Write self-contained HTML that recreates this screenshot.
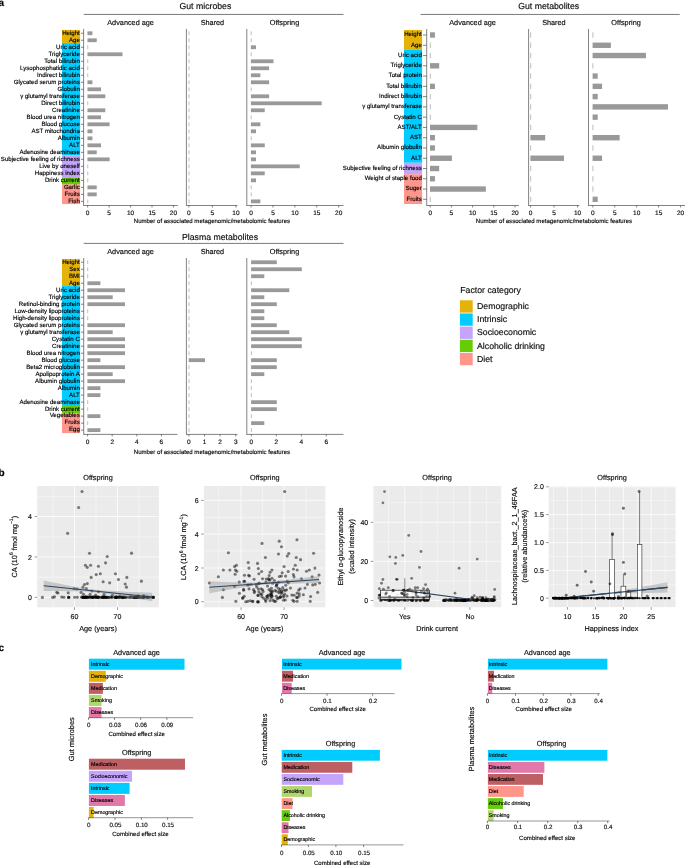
<!DOCTYPE html>
<html><head><meta charset="utf-8"><title>Figure</title>
<style>
html,body{margin:0;padding:0;background:#fff;}
body{width:685px;height:865px;overflow:hidden;}
svg{display:block;font-family:"Liberation Sans",sans-serif;will-change:transform;}
text{stroke:#000;stroke-width:0.15px;text-rendering:geometricPrecision;}
</style></head><body>
<svg width="685" height="865" viewBox="0 0 685 865">
<rect x="0" y="0" width="685" height="865" fill="#ffffff"/>
<text x="205.4" y="9" font-size="8.73" fill="#111" text-anchor="middle">Gut microbes</text>
<line x1="83.7" y1="14.45" x2="343.5" y2="14.45" stroke="#4d4d4d" stroke-width="0.75"/>
<rect x="62" y="29.9" width="18.1" height="13.26" fill="#E5B20A"/>
<rect x="62" y="43.11" width="18.1" height="112.13" fill="#00CCFF"/>
<rect x="62" y="155.19" width="18.1" height="22.37" fill="#C4A5FB"/>
<rect x="62" y="177.5" width="18.1" height="7.05" fill="#68CB08"/>
<rect x="62" y="184.51" width="18.1" height="19.54" fill="#FF968C"/>
<text x="79.8" y="34.6" font-size="6.1" fill="#000" text-anchor="end">Height</text>
<line x1="81" y1="33.25" x2="83.6" y2="33.25" stroke="#333" stroke-width="0.6"/>
<text x="79.8" y="41.61" font-size="6.1" fill="#000" text-anchor="end">Age</text>
<line x1="81" y1="40.26" x2="83.6" y2="40.26" stroke="#333" stroke-width="0.6"/>
<text x="79.8" y="48.61" font-size="6.1" fill="#000" text-anchor="end">Uric acid</text>
<line x1="81" y1="47.26" x2="83.6" y2="47.26" stroke="#333" stroke-width="0.6"/>
<text x="79.8" y="55.62" font-size="6.1" fill="#000" text-anchor="end">Triglyceride</text>
<line x1="81" y1="54.27" x2="83.6" y2="54.27" stroke="#333" stroke-width="0.6"/>
<text x="79.8" y="62.62" font-size="6.1" fill="#000" text-anchor="end">Total bilirubin</text>
<line x1="81" y1="61.27" x2="83.6" y2="61.27" stroke="#333" stroke-width="0.6"/>
<text x="79.8" y="69.62" font-size="6.1" fill="#000" text-anchor="end">Lysophosphatidic acid</text>
<line x1="81" y1="68.28" x2="83.6" y2="68.28" stroke="#333" stroke-width="0.6"/>
<text x="79.8" y="76.63" font-size="6.1" fill="#000" text-anchor="end">Indirect bilirubin</text>
<line x1="81" y1="75.28" x2="83.6" y2="75.28" stroke="#333" stroke-width="0.6"/>
<text x="79.8" y="83.63" font-size="6.1" fill="#000" text-anchor="end">Glycated serum proteins</text>
<line x1="81" y1="82.28" x2="83.6" y2="82.28" stroke="#333" stroke-width="0.6"/>
<text x="79.8" y="90.64" font-size="6.1" fill="#000" text-anchor="end">Globulin</text>
<line x1="81" y1="89.29" x2="83.6" y2="89.29" stroke="#333" stroke-width="0.6"/>
<text x="79.8" y="97.64" font-size="6.1" fill="#000" text-anchor="end">&#947; glutamyl transferase</text>
<line x1="81" y1="96.3" x2="83.6" y2="96.3" stroke="#333" stroke-width="0.6"/>
<text x="79.8" y="104.65" font-size="6.1" fill="#000" text-anchor="end">Direct bilirubin</text>
<line x1="81" y1="103.3" x2="83.6" y2="103.3" stroke="#333" stroke-width="0.6"/>
<text x="79.8" y="111.65" font-size="6.1" fill="#000" text-anchor="end">Creatinine</text>
<line x1="81" y1="110.3" x2="83.6" y2="110.3" stroke="#333" stroke-width="0.6"/>
<text x="79.8" y="118.66" font-size="6.1" fill="#000" text-anchor="end">Blood urea nitrogen</text>
<line x1="81" y1="117.31" x2="83.6" y2="117.31" stroke="#333" stroke-width="0.6"/>
<text x="79.8" y="125.66" font-size="6.1" fill="#000" text-anchor="end">Blood glucose</text>
<line x1="81" y1="124.31" x2="83.6" y2="124.31" stroke="#333" stroke-width="0.6"/>
<text x="79.8" y="132.67" font-size="6.1" fill="#000" text-anchor="end">AST mitochondria</text>
<line x1="81" y1="131.32" x2="83.6" y2="131.32" stroke="#333" stroke-width="0.6"/>
<text x="79.8" y="139.67" font-size="6.1" fill="#000" text-anchor="end">Albumin</text>
<line x1="81" y1="138.32" x2="83.6" y2="138.32" stroke="#333" stroke-width="0.6"/>
<text x="79.8" y="146.68" font-size="6.1" fill="#000" text-anchor="end">ALT</text>
<line x1="81" y1="145.33" x2="83.6" y2="145.33" stroke="#333" stroke-width="0.6"/>
<text x="79.8" y="153.68" font-size="6.1" fill="#000" text-anchor="end">Adenosine deaminase</text>
<line x1="81" y1="152.33" x2="83.6" y2="152.33" stroke="#333" stroke-width="0.6"/>
<text x="79.8" y="160.69" font-size="6.1" fill="#000" text-anchor="end">Subjective feeling of richness</text>
<line x1="81" y1="159.34" x2="83.6" y2="159.34" stroke="#333" stroke-width="0.6"/>
<text x="79.8" y="167.69" font-size="6.1" fill="#000" text-anchor="end">Live by oneself</text>
<line x1="81" y1="166.34" x2="83.6" y2="166.34" stroke="#333" stroke-width="0.6"/>
<text x="79.8" y="174.7" font-size="6.1" fill="#000" text-anchor="end">Happiness index</text>
<line x1="81" y1="173.35" x2="83.6" y2="173.35" stroke="#333" stroke-width="0.6"/>
<text x="79.8" y="181.7" font-size="6.1" fill="#000" text-anchor="end">Drink current</text>
<line x1="81" y1="180.35" x2="83.6" y2="180.35" stroke="#333" stroke-width="0.6"/>
<text x="79.8" y="188.71" font-size="6.1" fill="#000" text-anchor="end">Garlic</text>
<line x1="81" y1="187.36" x2="83.6" y2="187.36" stroke="#333" stroke-width="0.6"/>
<text x="79.8" y="195.72" font-size="6.1" fill="#000" text-anchor="end">Fruits</text>
<line x1="81" y1="194.37" x2="83.6" y2="194.37" stroke="#333" stroke-width="0.6"/>
<text x="79.8" y="202.72" font-size="6.1" fill="#000" text-anchor="end">Fish</text>
<line x1="81" y1="201.37" x2="83.6" y2="201.37" stroke="#333" stroke-width="0.6"/>
<text x="130.6" y="25.4" font-size="7.3" fill="#111" text-anchor="middle">Advanced age</text>
<line x1="83.6" y1="28.9" x2="83.6" y2="205.5" stroke="#4d4d4d" stroke-width="0.7"/>
<line x1="83.25" y1="205.5" x2="177.8" y2="205.5" stroke="#4d4d4d" stroke-width="0.7"/>
<rect x="87.45" y="31.35" width="4.99" height="3.8" fill="#999999"/>
<rect x="87.45" y="38.36" width="9.28" height="3.8" fill="#999999"/>
<line x1="87.75" y1="45.36" x2="87.75" y2="49.16" stroke="#a8a8a8" stroke-width="0.75"/>
<rect x="87.45" y="52.37" width="35.02" height="3.8" fill="#999999"/>
<line x1="87.75" y1="59.37" x2="87.75" y2="63.17" stroke="#a8a8a8" stroke-width="0.75"/>
<line x1="87.75" y1="66.38" x2="87.75" y2="70.18" stroke="#a8a8a8" stroke-width="0.75"/>
<line x1="87.75" y1="73.38" x2="87.75" y2="77.18" stroke="#a8a8a8" stroke-width="0.75"/>
<rect x="87.45" y="80.38" width="4.99" height="3.8" fill="#999999"/>
<rect x="87.45" y="87.39" width="13.57" height="3.8" fill="#999999"/>
<rect x="87.45" y="94.39" width="17.86" height="3.8" fill="#999999"/>
<line x1="87.75" y1="101.4" x2="87.75" y2="105.2" stroke="#a8a8a8" stroke-width="0.75"/>
<rect x="87.45" y="108.4" width="17.86" height="3.8" fill="#999999"/>
<rect x="87.45" y="115.41" width="13.57" height="3.8" fill="#999999"/>
<rect x="87.45" y="122.41" width="22.15" height="3.8" fill="#999999"/>
<rect x="87.45" y="129.42" width="4.99" height="3.8" fill="#999999"/>
<rect x="87.45" y="136.42" width="4.99" height="3.8" fill="#999999"/>
<rect x="87.45" y="143.43" width="13.57" height="3.8" fill="#999999"/>
<rect x="87.45" y="150.43" width="9.28" height="3.8" fill="#999999"/>
<rect x="87.45" y="157.44" width="22.15" height="3.8" fill="#999999"/>
<line x1="87.75" y1="164.44" x2="87.75" y2="168.25" stroke="#a8a8a8" stroke-width="0.75"/>
<line x1="87.75" y1="171.45" x2="87.75" y2="175.25" stroke="#a8a8a8" stroke-width="0.75"/>
<line x1="87.75" y1="178.45" x2="87.75" y2="182.25" stroke="#a8a8a8" stroke-width="0.75"/>
<rect x="87.45" y="185.46" width="9.28" height="3.8" fill="#999999"/>
<rect x="87.45" y="192.47" width="9.28" height="3.8" fill="#999999"/>
<line x1="87.75" y1="199.47" x2="87.75" y2="203.27" stroke="#a8a8a8" stroke-width="0.75"/>
<line x1="87.65" y1="205.5" x2="87.65" y2="207.5" stroke="#333" stroke-width="0.6"/>
<text x="87.65" y="214.7" font-size="6.5" fill="#111" text-anchor="middle">0</text>
<line x1="109.1" y1="205.5" x2="109.1" y2="207.5" stroke="#333" stroke-width="0.6"/>
<text x="109.1" y="214.7" font-size="6.5" fill="#111" text-anchor="middle">5</text>
<line x1="130.55" y1="205.5" x2="130.55" y2="207.5" stroke="#333" stroke-width="0.6"/>
<text x="130.55" y="214.7" font-size="6.5" fill="#111" text-anchor="middle">10</text>
<line x1="152" y1="205.5" x2="152" y2="207.5" stroke="#333" stroke-width="0.6"/>
<text x="152" y="214.7" font-size="6.5" fill="#111" text-anchor="middle">15</text>
<line x1="173.45" y1="205.5" x2="173.45" y2="207.5" stroke="#333" stroke-width="0.6"/>
<text x="173.45" y="214.7" font-size="6.5" fill="#111" text-anchor="middle">20</text>
<text x="212.4" y="25.4" font-size="7.3" fill="#111" text-anchor="middle">Shared</text>
<line x1="186.4" y1="28.9" x2="186.4" y2="205.5" stroke="#4d4d4d" stroke-width="0.7"/>
<line x1="186.05" y1="205.5" x2="237.5" y2="205.5" stroke="#4d4d4d" stroke-width="0.7"/>
<line x1="189" y1="31.35" x2="189" y2="35.15" stroke="#a8a8a8" stroke-width="0.75"/>
<line x1="189" y1="38.36" x2="189" y2="42.16" stroke="#a8a8a8" stroke-width="0.75"/>
<line x1="189" y1="45.36" x2="189" y2="49.16" stroke="#a8a8a8" stroke-width="0.75"/>
<line x1="189" y1="52.37" x2="189" y2="56.16" stroke="#a8a8a8" stroke-width="0.75"/>
<line x1="189" y1="59.37" x2="189" y2="63.17" stroke="#a8a8a8" stroke-width="0.75"/>
<line x1="189" y1="66.38" x2="189" y2="70.18" stroke="#a8a8a8" stroke-width="0.75"/>
<line x1="189" y1="73.38" x2="189" y2="77.18" stroke="#a8a8a8" stroke-width="0.75"/>
<line x1="189" y1="80.38" x2="189" y2="84.19" stroke="#a8a8a8" stroke-width="0.75"/>
<line x1="189" y1="87.39" x2="189" y2="91.19" stroke="#a8a8a8" stroke-width="0.75"/>
<line x1="189" y1="94.39" x2="189" y2="98.2" stroke="#a8a8a8" stroke-width="0.75"/>
<line x1="189" y1="101.4" x2="189" y2="105.2" stroke="#a8a8a8" stroke-width="0.75"/>
<line x1="189" y1="108.4" x2="189" y2="112.2" stroke="#a8a8a8" stroke-width="0.75"/>
<line x1="189" y1="115.41" x2="189" y2="119.21" stroke="#a8a8a8" stroke-width="0.75"/>
<line x1="189" y1="122.41" x2="189" y2="126.22" stroke="#a8a8a8" stroke-width="0.75"/>
<line x1="189" y1="129.42" x2="189" y2="133.22" stroke="#a8a8a8" stroke-width="0.75"/>
<line x1="189" y1="136.42" x2="189" y2="140.22" stroke="#a8a8a8" stroke-width="0.75"/>
<line x1="189" y1="143.43" x2="189" y2="147.23" stroke="#a8a8a8" stroke-width="0.75"/>
<line x1="189" y1="150.43" x2="189" y2="154.23" stroke="#a8a8a8" stroke-width="0.75"/>
<line x1="189" y1="157.44" x2="189" y2="161.24" stroke="#a8a8a8" stroke-width="0.75"/>
<line x1="189" y1="164.44" x2="189" y2="168.25" stroke="#a8a8a8" stroke-width="0.75"/>
<line x1="189" y1="171.45" x2="189" y2="175.25" stroke="#a8a8a8" stroke-width="0.75"/>
<line x1="189" y1="178.45" x2="189" y2="182.25" stroke="#a8a8a8" stroke-width="0.75"/>
<line x1="189" y1="185.46" x2="189" y2="189.26" stroke="#a8a8a8" stroke-width="0.75"/>
<line x1="189" y1="192.47" x2="189" y2="196.27" stroke="#a8a8a8" stroke-width="0.75"/>
<line x1="189" y1="199.47" x2="189" y2="203.27" stroke="#a8a8a8" stroke-width="0.75"/>
<line x1="188.9" y1="205.5" x2="188.9" y2="207.5" stroke="#333" stroke-width="0.6"/>
<text x="188.9" y="214.7" font-size="6.5" fill="#111" text-anchor="middle">0</text>
<line x1="212.4" y1="205.5" x2="212.4" y2="207.5" stroke="#333" stroke-width="0.6"/>
<text x="212.4" y="214.7" font-size="6.5" fill="#111" text-anchor="middle">5</text>
<line x1="235.9" y1="205.5" x2="235.9" y2="207.5" stroke="#333" stroke-width="0.6"/>
<text x="235.9" y="214.7" font-size="6.5" fill="#111" text-anchor="middle">10</text>
<text x="284.5" y="25.4" font-size="7.3" fill="#111" text-anchor="middle">Offspring</text>
<line x1="246.8" y1="28.9" x2="246.8" y2="205.5" stroke="#4d4d4d" stroke-width="0.7"/>
<line x1="246.45" y1="205.5" x2="343.5" y2="205.5" stroke="#4d4d4d" stroke-width="0.7"/>
<line x1="251.2" y1="31.35" x2="251.2" y2="35.15" stroke="#a8a8a8" stroke-width="0.75"/>
<line x1="251.2" y1="38.36" x2="251.2" y2="42.16" stroke="#a8a8a8" stroke-width="0.75"/>
<rect x="250.9" y="45.36" width="5.08" height="3.8" fill="#999999"/>
<line x1="251.2" y1="52.37" x2="251.2" y2="56.16" stroke="#a8a8a8" stroke-width="0.75"/>
<rect x="250.9" y="59.37" width="22.6" height="3.8" fill="#999999"/>
<rect x="250.9" y="66.38" width="18.22" height="3.8" fill="#999999"/>
<rect x="250.9" y="73.38" width="9.46" height="3.8" fill="#999999"/>
<rect x="250.9" y="80.38" width="18.22" height="3.8" fill="#999999"/>
<line x1="251.2" y1="87.39" x2="251.2" y2="91.19" stroke="#a8a8a8" stroke-width="0.75"/>
<rect x="250.9" y="94.39" width="18.22" height="3.8" fill="#999999"/>
<rect x="250.9" y="101.4" width="70.78" height="3.8" fill="#999999"/>
<rect x="250.9" y="108.4" width="13.84" height="3.8" fill="#999999"/>
<line x1="251.2" y1="115.41" x2="251.2" y2="119.21" stroke="#a8a8a8" stroke-width="0.75"/>
<rect x="250.9" y="122.41" width="9.46" height="3.8" fill="#999999"/>
<rect x="250.9" y="129.42" width="5.08" height="3.8" fill="#999999"/>
<line x1="251.2" y1="136.42" x2="251.2" y2="140.22" stroke="#a8a8a8" stroke-width="0.75"/>
<rect x="250.9" y="143.43" width="13.84" height="3.8" fill="#999999"/>
<rect x="250.9" y="150.43" width="5.08" height="3.8" fill="#999999"/>
<rect x="250.9" y="157.44" width="5.08" height="3.8" fill="#999999"/>
<rect x="250.9" y="164.44" width="48.88" height="3.8" fill="#999999"/>
<rect x="250.9" y="171.45" width="13.84" height="3.8" fill="#999999"/>
<rect x="250.9" y="178.45" width="5.08" height="3.8" fill="#999999"/>
<line x1="251.2" y1="185.46" x2="251.2" y2="189.26" stroke="#a8a8a8" stroke-width="0.75"/>
<line x1="251.2" y1="192.47" x2="251.2" y2="196.27" stroke="#a8a8a8" stroke-width="0.75"/>
<rect x="250.9" y="199.47" width="9.46" height="3.8" fill="#999999"/>
<line x1="251.1" y1="205.5" x2="251.1" y2="207.5" stroke="#333" stroke-width="0.6"/>
<text x="251.1" y="214.7" font-size="6.5" fill="#111" text-anchor="middle">0</text>
<line x1="273" y1="205.5" x2="273" y2="207.5" stroke="#333" stroke-width="0.6"/>
<text x="273" y="214.7" font-size="6.5" fill="#111" text-anchor="middle">5</text>
<line x1="294.9" y1="205.5" x2="294.9" y2="207.5" stroke="#333" stroke-width="0.6"/>
<text x="294.9" y="214.7" font-size="6.5" fill="#111" text-anchor="middle">10</text>
<line x1="316.8" y1="205.5" x2="316.8" y2="207.5" stroke="#333" stroke-width="0.6"/>
<text x="316.8" y="214.7" font-size="6.5" fill="#111" text-anchor="middle">15</text>
<line x1="338.7" y1="205.5" x2="338.7" y2="207.5" stroke="#333" stroke-width="0.6"/>
<text x="338.7" y="214.7" font-size="6.5" fill="#111" text-anchor="middle">20</text>
<text x="212" y="222.9" font-size="6.06" fill="#111" text-anchor="middle">Number of associated metagenomic/metabolomic features</text>
<text x="548.7" y="9" font-size="8.73" fill="#111" text-anchor="middle">Gut metabolites</text>
<line x1="420.6" y1="14.45" x2="679.7" y2="14.45" stroke="#4d4d4d" stroke-width="0.75"/>
<rect x="404" y="30" width="18.1" height="19.81" fill="#E5B20A"/>
<rect x="404" y="49.76" width="18.1" height="113.02" fill="#00CCFF"/>
<rect x="404" y="162.72" width="18.1" height="11.62" fill="#C4A5FB"/>
<rect x="404" y="174.29" width="18.1" height="29.76" fill="#FF968C"/>
<text x="421.8" y="36.35" font-size="6.1" fill="#000" text-anchor="end">Height</text>
<line x1="423" y1="35" x2="426.7" y2="35" stroke="#333" stroke-width="0.6"/>
<text x="421.8" y="46.62" font-size="6.1" fill="#000" text-anchor="end">Age</text>
<line x1="423" y1="45.27" x2="426.7" y2="45.27" stroke="#333" stroke-width="0.6"/>
<text x="421.8" y="56.89" font-size="6.1" fill="#000" text-anchor="end">Uric acid</text>
<line x1="423" y1="55.54" x2="426.7" y2="55.54" stroke="#333" stroke-width="0.6"/>
<text x="421.8" y="67.16" font-size="6.1" fill="#000" text-anchor="end">Triglyceride</text>
<line x1="423" y1="65.81" x2="426.7" y2="65.81" stroke="#333" stroke-width="0.6"/>
<text x="421.8" y="77.43" font-size="6.1" fill="#000" text-anchor="end">Total protein</text>
<line x1="423" y1="76.08" x2="426.7" y2="76.08" stroke="#333" stroke-width="0.6"/>
<text x="421.8" y="87.7" font-size="6.1" fill="#000" text-anchor="end">Total bilirubin</text>
<line x1="423" y1="86.35" x2="426.7" y2="86.35" stroke="#333" stroke-width="0.6"/>
<text x="421.8" y="97.97" font-size="6.1" fill="#000" text-anchor="end">Indirect bilirubin</text>
<line x1="423" y1="96.62" x2="426.7" y2="96.62" stroke="#333" stroke-width="0.6"/>
<text x="421.8" y="108.24" font-size="6.1" fill="#000" text-anchor="end">&#947; glutamyl transferase</text>
<line x1="423" y1="106.89" x2="426.7" y2="106.89" stroke="#333" stroke-width="0.6"/>
<text x="421.8" y="118.51" font-size="6.1" fill="#000" text-anchor="end">Cystatin C</text>
<line x1="423" y1="117.16" x2="426.7" y2="117.16" stroke="#333" stroke-width="0.6"/>
<text x="421.8" y="128.78" font-size="6.1" fill="#000" text-anchor="end">AST/ALT</text>
<line x1="423" y1="127.43" x2="426.7" y2="127.43" stroke="#333" stroke-width="0.6"/>
<text x="421.8" y="139.05" font-size="6.1" fill="#000" text-anchor="end">AST</text>
<line x1="423" y1="137.7" x2="426.7" y2="137.7" stroke="#333" stroke-width="0.6"/>
<text x="421.8" y="149.32" font-size="6.1" fill="#000" text-anchor="end">Albumin globulin</text>
<line x1="423" y1="147.97" x2="426.7" y2="147.97" stroke="#333" stroke-width="0.6"/>
<text x="421.8" y="159.59" font-size="6.1" fill="#000" text-anchor="end">ALT</text>
<line x1="423" y1="158.24" x2="426.7" y2="158.24" stroke="#333" stroke-width="0.6"/>
<text x="421.8" y="169.86" font-size="6.1" fill="#000" text-anchor="end">Subjective feeling of richness</text>
<line x1="423" y1="168.51" x2="426.7" y2="168.51" stroke="#333" stroke-width="0.6"/>
<text x="421.8" y="180.13" font-size="6.1" fill="#000" text-anchor="end">Weight of staple food</text>
<line x1="423" y1="178.78" x2="426.7" y2="178.78" stroke="#333" stroke-width="0.6"/>
<text x="421.8" y="190.4" font-size="6.1" fill="#000" text-anchor="end">Suger</text>
<line x1="423" y1="189.05" x2="426.7" y2="189.05" stroke="#333" stroke-width="0.6"/>
<text x="421.8" y="200.67" font-size="6.1" fill="#000" text-anchor="end">Fruits</text>
<line x1="423" y1="199.32" x2="426.7" y2="199.32" stroke="#333" stroke-width="0.6"/>
<text x="472.6" y="25.4" font-size="7.3" fill="#111" text-anchor="middle">Advanced age</text>
<line x1="426.7" y1="29" x2="426.7" y2="205.5" stroke="#4d4d4d" stroke-width="0.7"/>
<line x1="426.35" y1="205.5" x2="519" y2="205.5" stroke="#4d4d4d" stroke-width="0.7"/>
<rect x="430" y="32.3" width="4.94" height="5.4" fill="#999999"/>
<line x1="430.3" y1="42.57" x2="430.3" y2="47.97" stroke="#a8a8a8" stroke-width="0.75"/>
<line x1="430.3" y1="52.84" x2="430.3" y2="58.24" stroke="#a8a8a8" stroke-width="0.75"/>
<rect x="430" y="63.11" width="9.18" height="5.4" fill="#999999"/>
<line x1="430.3" y1="73.38" x2="430.3" y2="78.78" stroke="#a8a8a8" stroke-width="0.75"/>
<rect x="430" y="83.65" width="4.94" height="5.4" fill="#999999"/>
<line x1="430.3" y1="93.92" x2="430.3" y2="99.32" stroke="#a8a8a8" stroke-width="0.75"/>
<line x1="430.3" y1="104.19" x2="430.3" y2="109.59" stroke="#a8a8a8" stroke-width="0.75"/>
<line x1="430.3" y1="114.46" x2="430.3" y2="119.86" stroke="#a8a8a8" stroke-width="0.75"/>
<rect x="430" y="124.73" width="47.34" height="5.4" fill="#999999"/>
<rect x="430" y="135" width="4.94" height="5.4" fill="#999999"/>
<rect x="430" y="145.27" width="4.94" height="5.4" fill="#999999"/>
<rect x="430" y="155.54" width="21.9" height="5.4" fill="#999999"/>
<rect x="430" y="165.81" width="9.18" height="5.4" fill="#999999"/>
<rect x="430" y="176.08" width="4.94" height="5.4" fill="#999999"/>
<rect x="430" y="186.35" width="55.82" height="5.4" fill="#999999"/>
<line x1="430.3" y1="196.62" x2="430.3" y2="202.02" stroke="#a8a8a8" stroke-width="0.75"/>
<line x1="430.2" y1="205.5" x2="430.2" y2="207.5" stroke="#333" stroke-width="0.6"/>
<text x="430.2" y="214.7" font-size="6.5" fill="#111" text-anchor="middle">0</text>
<line x1="451.4" y1="205.5" x2="451.4" y2="207.5" stroke="#333" stroke-width="0.6"/>
<text x="451.4" y="214.7" font-size="6.5" fill="#111" text-anchor="middle">5</text>
<line x1="472.6" y1="205.5" x2="472.6" y2="207.5" stroke="#333" stroke-width="0.6"/>
<text x="472.6" y="214.7" font-size="6.5" fill="#111" text-anchor="middle">10</text>
<line x1="493.8" y1="205.5" x2="493.8" y2="207.5" stroke="#333" stroke-width="0.6"/>
<text x="493.8" y="214.7" font-size="6.5" fill="#111" text-anchor="middle">15</text>
<line x1="515" y1="205.5" x2="515" y2="207.5" stroke="#333" stroke-width="0.6"/>
<text x="515" y="214.7" font-size="6.5" fill="#111" text-anchor="middle">20</text>
<text x="553.9" y="25.4" font-size="7.3" fill="#111" text-anchor="middle">Shared</text>
<line x1="528.6" y1="29" x2="528.6" y2="205.5" stroke="#4d4d4d" stroke-width="0.7"/>
<line x1="528.25" y1="205.5" x2="579.4" y2="205.5" stroke="#4d4d4d" stroke-width="0.7"/>
<line x1="530.7" y1="32.3" x2="530.7" y2="37.7" stroke="#a8a8a8" stroke-width="0.75"/>
<line x1="530.7" y1="42.57" x2="530.7" y2="47.97" stroke="#a8a8a8" stroke-width="0.75"/>
<line x1="530.7" y1="52.84" x2="530.7" y2="58.24" stroke="#a8a8a8" stroke-width="0.75"/>
<line x1="530.7" y1="63.11" x2="530.7" y2="68.51" stroke="#a8a8a8" stroke-width="0.75"/>
<line x1="530.7" y1="73.38" x2="530.7" y2="78.78" stroke="#a8a8a8" stroke-width="0.75"/>
<line x1="530.7" y1="83.65" x2="530.7" y2="89.05" stroke="#a8a8a8" stroke-width="0.75"/>
<line x1="530.7" y1="93.92" x2="530.7" y2="99.32" stroke="#a8a8a8" stroke-width="0.75"/>
<line x1="530.7" y1="104.19" x2="530.7" y2="109.59" stroke="#a8a8a8" stroke-width="0.75"/>
<line x1="530.7" y1="114.46" x2="530.7" y2="119.86" stroke="#a8a8a8" stroke-width="0.75"/>
<line x1="530.7" y1="124.73" x2="530.7" y2="130.13" stroke="#a8a8a8" stroke-width="0.75"/>
<rect x="530.4" y="135" width="14.8" height="5.4" fill="#999999"/>
<line x1="530.7" y1="145.27" x2="530.7" y2="150.67" stroke="#a8a8a8" stroke-width="0.75"/>
<rect x="530.4" y="155.54" width="33.6" height="5.4" fill="#999999"/>
<line x1="530.7" y1="165.81" x2="530.7" y2="171.21" stroke="#a8a8a8" stroke-width="0.75"/>
<line x1="530.7" y1="176.08" x2="530.7" y2="181.48" stroke="#a8a8a8" stroke-width="0.75"/>
<line x1="530.7" y1="186.35" x2="530.7" y2="191.75" stroke="#a8a8a8" stroke-width="0.75"/>
<line x1="530.7" y1="196.62" x2="530.7" y2="202.02" stroke="#a8a8a8" stroke-width="0.75"/>
<line x1="530.6" y1="205.5" x2="530.6" y2="207.5" stroke="#333" stroke-width="0.6"/>
<text x="530.6" y="214.7" font-size="6.5" fill="#111" text-anchor="middle">0</text>
<line x1="554.1" y1="205.5" x2="554.1" y2="207.5" stroke="#333" stroke-width="0.6"/>
<text x="554.1" y="214.7" font-size="6.5" fill="#111" text-anchor="middle">5</text>
<line x1="577.6" y1="205.5" x2="577.6" y2="207.5" stroke="#333" stroke-width="0.6"/>
<text x="577.6" y="214.7" font-size="6.5" fill="#111" text-anchor="middle">10</text>
<text x="626.1" y="25.4" font-size="7.3" fill="#111" text-anchor="middle">Offspring</text>
<line x1="588.5" y1="29" x2="588.5" y2="205.5" stroke="#4d4d4d" stroke-width="0.7"/>
<line x1="588.15" y1="205.5" x2="685" y2="205.5" stroke="#4d4d4d" stroke-width="0.7"/>
<line x1="592.9" y1="32.3" x2="592.9" y2="37.7" stroke="#a8a8a8" stroke-width="0.75"/>
<rect x="592.6" y="42.57" width="18.26" height="5.4" fill="#999999"/>
<rect x="592.6" y="52.84" width="53.38" height="5.4" fill="#999999"/>
<line x1="592.9" y1="63.11" x2="592.9" y2="68.51" stroke="#a8a8a8" stroke-width="0.75"/>
<rect x="592.6" y="73.38" width="5.09" height="5.4" fill="#999999"/>
<rect x="592.6" y="83.65" width="9.48" height="5.4" fill="#999999"/>
<rect x="592.6" y="93.92" width="5.09" height="5.4" fill="#999999"/>
<rect x="592.6" y="104.19" width="75.33" height="5.4" fill="#999999"/>
<rect x="592.6" y="114.46" width="5.09" height="5.4" fill="#999999"/>
<line x1="592.9" y1="124.73" x2="592.9" y2="130.13" stroke="#a8a8a8" stroke-width="0.75"/>
<rect x="592.6" y="135" width="27.04" height="5.4" fill="#999999"/>
<line x1="592.9" y1="145.27" x2="592.9" y2="150.67" stroke="#a8a8a8" stroke-width="0.75"/>
<rect x="592.6" y="155.54" width="9.48" height="5.4" fill="#999999"/>
<line x1="592.9" y1="165.81" x2="592.9" y2="171.21" stroke="#a8a8a8" stroke-width="0.75"/>
<line x1="592.9" y1="176.08" x2="592.9" y2="181.48" stroke="#a8a8a8" stroke-width="0.75"/>
<line x1="592.9" y1="186.35" x2="592.9" y2="191.75" stroke="#a8a8a8" stroke-width="0.75"/>
<rect x="592.6" y="196.62" width="5.09" height="5.4" fill="#999999"/>
<line x1="592.8" y1="205.5" x2="592.8" y2="207.5" stroke="#333" stroke-width="0.6"/>
<text x="592.8" y="214.7" font-size="6.5" fill="#111" text-anchor="middle">0</text>
<line x1="614.75" y1="205.5" x2="614.75" y2="207.5" stroke="#333" stroke-width="0.6"/>
<text x="614.75" y="214.7" font-size="6.5" fill="#111" text-anchor="middle">5</text>
<line x1="636.7" y1="205.5" x2="636.7" y2="207.5" stroke="#333" stroke-width="0.6"/>
<text x="636.7" y="214.7" font-size="6.5" fill="#111" text-anchor="middle">10</text>
<line x1="658.65" y1="205.5" x2="658.65" y2="207.5" stroke="#333" stroke-width="0.6"/>
<text x="658.65" y="214.7" font-size="6.5" fill="#111" text-anchor="middle">15</text>
<line x1="680.6" y1="205.5" x2="680.6" y2="207.5" stroke="#333" stroke-width="0.6"/>
<text x="680.6" y="214.7" font-size="6.5" fill="#111" text-anchor="middle">20</text>
<text x="554" y="223" font-size="6.06" fill="#111" text-anchor="middle">Number of associated metagenomic/metabolomic features</text>
<text x="220" y="239.9" font-size="8.73" fill="#111" text-anchor="middle">Plasma metabolites</text>
<line x1="83.7" y1="243.4" x2="343.5" y2="243.4" stroke="#4d4d4d" stroke-width="0.75"/>
<rect x="62" y="259" width="18.1" height="27.13" fill="#E5B20A"/>
<rect x="62" y="286.08" width="18.1" height="118.97" fill="#00CCFF"/>
<rect x="62" y="405" width="18.1" height="8.34" fill="#68CB08"/>
<rect x="62" y="413.29" width="18.1" height="19.76" fill="#FF968C"/>
<text x="79.8" y="263.6" font-size="6.1" fill="#000" text-anchor="end">Height</text>
<line x1="81" y1="262.25" x2="83.7" y2="262.25" stroke="#333" stroke-width="0.6"/>
<text x="79.8" y="270.6" font-size="6.1" fill="#000" text-anchor="end">Sex</text>
<line x1="81" y1="269.25" x2="83.7" y2="269.25" stroke="#333" stroke-width="0.6"/>
<text x="79.8" y="277.59" font-size="6.1" fill="#000" text-anchor="end">BMI</text>
<line x1="81" y1="276.24" x2="83.7" y2="276.24" stroke="#333" stroke-width="0.6"/>
<text x="79.8" y="284.59" font-size="6.1" fill="#000" text-anchor="end">Age</text>
<line x1="81" y1="283.24" x2="83.7" y2="283.24" stroke="#333" stroke-width="0.6"/>
<text x="79.8" y="291.58" font-size="6.1" fill="#000" text-anchor="end">Uric acid</text>
<line x1="81" y1="290.23" x2="83.7" y2="290.23" stroke="#333" stroke-width="0.6"/>
<text x="79.8" y="298.58" font-size="6.1" fill="#000" text-anchor="end">Triglyceride</text>
<line x1="81" y1="297.23" x2="83.7" y2="297.23" stroke="#333" stroke-width="0.6"/>
<text x="79.8" y="305.57" font-size="6.1" fill="#000" text-anchor="end">Retinol-binding protein</text>
<line x1="81" y1="304.22" x2="83.7" y2="304.22" stroke="#333" stroke-width="0.6"/>
<text x="79.8" y="312.57" font-size="6.1" fill="#000" text-anchor="end">Low-density lipoproteins</text>
<line x1="81" y1="311.22" x2="83.7" y2="311.22" stroke="#333" stroke-width="0.6"/>
<text x="79.8" y="319.56" font-size="6.1" fill="#000" text-anchor="end">High-density lipoproteins</text>
<line x1="81" y1="318.21" x2="83.7" y2="318.21" stroke="#333" stroke-width="0.6"/>
<text x="79.8" y="326.56" font-size="6.1" fill="#000" text-anchor="end">Glycated serum proteins</text>
<line x1="81" y1="325.2" x2="83.7" y2="325.2" stroke="#333" stroke-width="0.6"/>
<text x="79.8" y="333.55" font-size="6.1" fill="#000" text-anchor="end">&#947; glutamyl transferase</text>
<line x1="81" y1="332.2" x2="83.7" y2="332.2" stroke="#333" stroke-width="0.6"/>
<text x="79.8" y="340.55" font-size="6.1" fill="#000" text-anchor="end">Cystatin C</text>
<line x1="81" y1="339.19" x2="83.7" y2="339.19" stroke="#333" stroke-width="0.6"/>
<text x="79.8" y="347.54" font-size="6.1" fill="#000" text-anchor="end">Creatinine</text>
<line x1="81" y1="346.19" x2="83.7" y2="346.19" stroke="#333" stroke-width="0.6"/>
<text x="79.8" y="354.54" font-size="6.1" fill="#000" text-anchor="end">Blood urea nitrogen</text>
<line x1="81" y1="353.19" x2="83.7" y2="353.19" stroke="#333" stroke-width="0.6"/>
<text x="79.8" y="361.53" font-size="6.1" fill="#000" text-anchor="end">Blood glucose</text>
<line x1="81" y1="360.18" x2="83.7" y2="360.18" stroke="#333" stroke-width="0.6"/>
<text x="79.8" y="368.53" font-size="6.1" fill="#000" text-anchor="end">Beta2 microglobulin</text>
<line x1="81" y1="367.18" x2="83.7" y2="367.18" stroke="#333" stroke-width="0.6"/>
<text x="79.8" y="375.52" font-size="6.1" fill="#000" text-anchor="end">Apolipoprotein A</text>
<line x1="81" y1="374.17" x2="83.7" y2="374.17" stroke="#333" stroke-width="0.6"/>
<text x="79.8" y="382.52" font-size="6.1" fill="#000" text-anchor="end">Albumin globulin</text>
<line x1="81" y1="381.17" x2="83.7" y2="381.17" stroke="#333" stroke-width="0.6"/>
<text x="79.8" y="389.51" font-size="6.1" fill="#000" text-anchor="end">Albumin</text>
<line x1="81" y1="388.16" x2="83.7" y2="388.16" stroke="#333" stroke-width="0.6"/>
<text x="79.8" y="396.5" font-size="6.1" fill="#000" text-anchor="end">ALT</text>
<line x1="81" y1="395.15" x2="83.7" y2="395.15" stroke="#333" stroke-width="0.6"/>
<text x="79.8" y="403.5" font-size="6.1" fill="#000" text-anchor="end">Adenosine deaminase</text>
<line x1="81" y1="402.15" x2="83.7" y2="402.15" stroke="#333" stroke-width="0.6"/>
<text x="79.8" y="410.5" font-size="6.1" fill="#000" text-anchor="end">Drink current</text>
<line x1="81" y1="409.14" x2="83.7" y2="409.14" stroke="#333" stroke-width="0.6"/>
<text x="79.8" y="417.49" font-size="6.1" fill="#000" text-anchor="end">Vegetables</text>
<line x1="81" y1="416.14" x2="83.7" y2="416.14" stroke="#333" stroke-width="0.6"/>
<text x="79.8" y="424.49" font-size="6.1" fill="#000" text-anchor="end">Fruits</text>
<line x1="81" y1="423.13" x2="83.7" y2="423.13" stroke="#333" stroke-width="0.6"/>
<text x="79.8" y="431.48" font-size="6.1" fill="#000" text-anchor="end">Egg</text>
<line x1="81" y1="430.13" x2="83.7" y2="430.13" stroke="#333" stroke-width="0.6"/>
<text x="130.6" y="254.3" font-size="7.3" fill="#111" text-anchor="middle">Advanced age</text>
<line x1="83.7" y1="258" x2="83.7" y2="434.4" stroke="#4d4d4d" stroke-width="0.7"/>
<line x1="83.35" y1="434.4" x2="177.4" y2="434.4" stroke="#4d4d4d" stroke-width="0.7"/>
<line x1="87.7" y1="260.35" x2="87.7" y2="264.15" stroke="#a8a8a8" stroke-width="0.75"/>
<line x1="87.7" y1="267.35" x2="87.7" y2="271.14" stroke="#a8a8a8" stroke-width="0.75"/>
<line x1="87.7" y1="274.34" x2="87.7" y2="278.14" stroke="#a8a8a8" stroke-width="0.75"/>
<rect x="87.4" y="281.34" width="13" height="3.8" fill="#999999"/>
<rect x="87.4" y="288.33" width="37.6" height="3.8" fill="#999999"/>
<rect x="87.4" y="295.33" width="25.3" height="3.8" fill="#999999"/>
<rect x="87.4" y="302.32" width="37.6" height="3.8" fill="#999999"/>
<line x1="87.7" y1="309.32" x2="87.7" y2="313.12" stroke="#a8a8a8" stroke-width="0.75"/>
<line x1="87.7" y1="316.31" x2="87.7" y2="320.11" stroke="#a8a8a8" stroke-width="0.75"/>
<rect x="87.4" y="323.31" width="37.6" height="3.8" fill="#999999"/>
<rect x="87.4" y="330.3" width="25.3" height="3.8" fill="#999999"/>
<rect x="87.4" y="337.3" width="37.6" height="3.8" fill="#999999"/>
<rect x="87.4" y="344.29" width="37.6" height="3.8" fill="#999999"/>
<rect x="87.4" y="351.29" width="37.6" height="3.8" fill="#999999"/>
<rect x="87.4" y="358.28" width="13" height="3.8" fill="#999999"/>
<rect x="87.4" y="365.28" width="37.6" height="3.8" fill="#999999"/>
<rect x="87.4" y="372.27" width="25.3" height="3.8" fill="#999999"/>
<rect x="87.4" y="379.27" width="37.6" height="3.8" fill="#999999"/>
<rect x="87.4" y="386.26" width="13" height="3.8" fill="#999999"/>
<rect x="87.4" y="393.25" width="13" height="3.8" fill="#999999"/>
<line x1="87.7" y1="400.25" x2="87.7" y2="404.05" stroke="#a8a8a8" stroke-width="0.75"/>
<line x1="87.7" y1="407.25" x2="87.7" y2="411.04" stroke="#a8a8a8" stroke-width="0.75"/>
<rect x="87.4" y="414.24" width="13" height="3.8" fill="#999999"/>
<line x1="87.7" y1="421.24" x2="87.7" y2="425.03" stroke="#a8a8a8" stroke-width="0.75"/>
<rect x="87.4" y="428.23" width="13" height="3.8" fill="#999999"/>
<line x1="87.6" y1="434.4" x2="87.6" y2="436.4" stroke="#333" stroke-width="0.6"/>
<text x="87.6" y="443.7" font-size="6.5" fill="#111" text-anchor="middle">0</text>
<line x1="112.2" y1="434.4" x2="112.2" y2="436.4" stroke="#333" stroke-width="0.6"/>
<text x="112.2" y="443.7" font-size="6.5" fill="#111" text-anchor="middle">2</text>
<line x1="136.8" y1="434.4" x2="136.8" y2="436.4" stroke="#333" stroke-width="0.6"/>
<text x="136.8" y="443.7" font-size="6.5" fill="#111" text-anchor="middle">4</text>
<line x1="161.4" y1="434.4" x2="161.4" y2="436.4" stroke="#333" stroke-width="0.6"/>
<text x="161.4" y="443.7" font-size="6.5" fill="#111" text-anchor="middle">6</text>
<text x="212.4" y="254.3" font-size="7.3" fill="#111" text-anchor="middle">Shared</text>
<line x1="186.4" y1="258" x2="186.4" y2="434.4" stroke="#4d4d4d" stroke-width="0.7"/>
<line x1="186.05" y1="434.4" x2="237.5" y2="434.4" stroke="#4d4d4d" stroke-width="0.7"/>
<line x1="189" y1="260.35" x2="189" y2="264.15" stroke="#a8a8a8" stroke-width="0.75"/>
<line x1="189" y1="267.35" x2="189" y2="271.14" stroke="#a8a8a8" stroke-width="0.75"/>
<line x1="189" y1="274.34" x2="189" y2="278.14" stroke="#a8a8a8" stroke-width="0.75"/>
<line x1="189" y1="281.34" x2="189" y2="285.13" stroke="#a8a8a8" stroke-width="0.75"/>
<line x1="189" y1="288.33" x2="189" y2="292.13" stroke="#a8a8a8" stroke-width="0.75"/>
<line x1="189" y1="295.33" x2="189" y2="299.12" stroke="#a8a8a8" stroke-width="0.75"/>
<line x1="189" y1="302.32" x2="189" y2="306.12" stroke="#a8a8a8" stroke-width="0.75"/>
<line x1="189" y1="309.32" x2="189" y2="313.12" stroke="#a8a8a8" stroke-width="0.75"/>
<line x1="189" y1="316.31" x2="189" y2="320.11" stroke="#a8a8a8" stroke-width="0.75"/>
<line x1="189" y1="323.31" x2="189" y2="327.1" stroke="#a8a8a8" stroke-width="0.75"/>
<line x1="189" y1="330.3" x2="189" y2="334.1" stroke="#a8a8a8" stroke-width="0.75"/>
<line x1="189" y1="337.3" x2="189" y2="341.09" stroke="#a8a8a8" stroke-width="0.75"/>
<line x1="189" y1="344.29" x2="189" y2="348.09" stroke="#a8a8a8" stroke-width="0.75"/>
<line x1="189" y1="351.29" x2="189" y2="355.08" stroke="#a8a8a8" stroke-width="0.75"/>
<rect x="188.7" y="358.28" width="16.3" height="3.8" fill="#999999"/>
<line x1="189" y1="365.28" x2="189" y2="369.07" stroke="#a8a8a8" stroke-width="0.75"/>
<line x1="189" y1="372.27" x2="189" y2="376.07" stroke="#a8a8a8" stroke-width="0.75"/>
<line x1="189" y1="379.27" x2="189" y2="383.06" stroke="#a8a8a8" stroke-width="0.75"/>
<line x1="189" y1="386.26" x2="189" y2="390.06" stroke="#a8a8a8" stroke-width="0.75"/>
<line x1="189" y1="393.25" x2="189" y2="397.05" stroke="#a8a8a8" stroke-width="0.75"/>
<line x1="189" y1="400.25" x2="189" y2="404.05" stroke="#a8a8a8" stroke-width="0.75"/>
<line x1="189" y1="407.25" x2="189" y2="411.04" stroke="#a8a8a8" stroke-width="0.75"/>
<line x1="189" y1="414.24" x2="189" y2="418.04" stroke="#a8a8a8" stroke-width="0.75"/>
<line x1="189" y1="421.24" x2="189" y2="425.03" stroke="#a8a8a8" stroke-width="0.75"/>
<line x1="189" y1="428.23" x2="189" y2="432.03" stroke="#a8a8a8" stroke-width="0.75"/>
<line x1="188.9" y1="434.4" x2="188.9" y2="436.4" stroke="#333" stroke-width="0.6"/>
<text x="188.9" y="443.7" font-size="6.5" fill="#111" text-anchor="middle">0</text>
<line x1="204.5" y1="434.4" x2="204.5" y2="436.4" stroke="#333" stroke-width="0.6"/>
<text x="204.5" y="443.7" font-size="6.5" fill="#111" text-anchor="middle">1</text>
<line x1="220.1" y1="434.4" x2="220.1" y2="436.4" stroke="#333" stroke-width="0.6"/>
<text x="220.1" y="443.7" font-size="6.5" fill="#111" text-anchor="middle">2</text>
<line x1="235.7" y1="434.4" x2="235.7" y2="436.4" stroke="#333" stroke-width="0.6"/>
<text x="235.7" y="443.7" font-size="6.5" fill="#111" text-anchor="middle">3</text>
<text x="284.5" y="254.3" font-size="7.3" fill="#111" text-anchor="middle">Offspring</text>
<line x1="246.8" y1="258" x2="246.8" y2="434.4" stroke="#4d4d4d" stroke-width="0.7"/>
<line x1="246.45" y1="434.4" x2="343.5" y2="434.4" stroke="#4d4d4d" stroke-width="0.7"/>
<rect x="251.1" y="260.35" width="25.7" height="3.8" fill="#999999"/>
<rect x="251.1" y="267.35" width="50.7" height="3.8" fill="#999999"/>
<rect x="251.1" y="274.34" width="13.2" height="3.8" fill="#999999"/>
<line x1="251.4" y1="281.34" x2="251.4" y2="285.13" stroke="#a8a8a8" stroke-width="0.75"/>
<rect x="251.1" y="288.33" width="38.2" height="3.8" fill="#999999"/>
<rect x="251.1" y="295.33" width="13.2" height="3.8" fill="#999999"/>
<rect x="251.1" y="302.32" width="25.7" height="3.8" fill="#999999"/>
<rect x="251.1" y="309.32" width="13.2" height="3.8" fill="#999999"/>
<rect x="251.1" y="316.31" width="13.2" height="3.8" fill="#999999"/>
<rect x="251.1" y="323.31" width="25.7" height="3.8" fill="#999999"/>
<rect x="251.1" y="330.3" width="38.2" height="3.8" fill="#999999"/>
<rect x="251.1" y="337.3" width="50.7" height="3.8" fill="#999999"/>
<rect x="251.1" y="344.29" width="50.7" height="3.8" fill="#999999"/>
<line x1="251.4" y1="351.29" x2="251.4" y2="355.08" stroke="#a8a8a8" stroke-width="0.75"/>
<rect x="251.1" y="358.28" width="25.7" height="3.8" fill="#999999"/>
<rect x="251.1" y="365.28" width="25.7" height="3.8" fill="#999999"/>
<rect x="251.1" y="372.27" width="13.2" height="3.8" fill="#999999"/>
<line x1="251.4" y1="379.27" x2="251.4" y2="383.06" stroke="#a8a8a8" stroke-width="0.75"/>
<line x1="251.4" y1="386.26" x2="251.4" y2="390.06" stroke="#a8a8a8" stroke-width="0.75"/>
<line x1="251.4" y1="393.25" x2="251.4" y2="397.05" stroke="#a8a8a8" stroke-width="0.75"/>
<rect x="251.1" y="400.25" width="25.7" height="3.8" fill="#999999"/>
<rect x="251.1" y="407.25" width="25.7" height="3.8" fill="#999999"/>
<line x1="251.4" y1="414.24" x2="251.4" y2="418.04" stroke="#a8a8a8" stroke-width="0.75"/>
<rect x="251.1" y="421.24" width="13.2" height="3.8" fill="#999999"/>
<line x1="251.4" y1="428.23" x2="251.4" y2="432.03" stroke="#a8a8a8" stroke-width="0.75"/>
<line x1="251.3" y1="434.4" x2="251.3" y2="436.4" stroke="#333" stroke-width="0.6"/>
<text x="251.3" y="443.7" font-size="6.5" fill="#111" text-anchor="middle">0</text>
<line x1="276.3" y1="434.4" x2="276.3" y2="436.4" stroke="#333" stroke-width="0.6"/>
<text x="276.3" y="443.7" font-size="6.5" fill="#111" text-anchor="middle">2</text>
<line x1="301.3" y1="434.4" x2="301.3" y2="436.4" stroke="#333" stroke-width="0.6"/>
<text x="301.3" y="443.7" font-size="6.5" fill="#111" text-anchor="middle">4</text>
<line x1="326.3" y1="434.4" x2="326.3" y2="436.4" stroke="#333" stroke-width="0.6"/>
<text x="326.3" y="443.7" font-size="6.5" fill="#111" text-anchor="middle">6</text>
<text x="212" y="453.9" font-size="6.06" fill="#111" text-anchor="middle">Number of associated metagenomic/metabolomic features</text>
<text x="-1.5" y="5.5" font-size="10" fill="#000" font-weight="bold">a</text>
<text x="-1.5" y="476" font-size="10" fill="#000" font-weight="bold">b</text>
<text x="-1.5" y="651" font-size="10" fill="#000" font-weight="bold">c</text>
<text x="460.3" y="293.4" font-size="8.72" fill="#111">Factor category</text>
<rect x="459.9" y="300.3" width="12.8" height="12.3" fill="#E5B20A"/>
<text x="477" y="309.1" font-size="8.74" fill="#111">Demographic</text>
<rect x="459.9" y="313.45" width="12.8" height="12.3" fill="#00CCFF"/>
<text x="477" y="322.25" font-size="8.74" fill="#111">Intrinsic</text>
<rect x="459.9" y="326.6" width="12.8" height="12.3" fill="#C4A5FB"/>
<text x="477" y="335.4" font-size="8.74" fill="#111">Socioeconomic</text>
<rect x="459.9" y="339.75" width="12.8" height="12.3" fill="#68CB08"/>
<text x="477" y="348.55" font-size="8.74" fill="#111">Alcoholic drinking</text>
<rect x="459.9" y="352.9" width="12.8" height="12.3" fill="#FF968C"/>
<text x="477" y="361.7" font-size="8.74" fill="#111">Diet</text>
<rect x="37.2" y="486" width="121.7" height="121.3" fill="#EBEBEB"/>
<line x1="52.8" y1="486" x2="52.8" y2="607.3" stroke="#FAFAFA" stroke-width="0.5"/>
<line x1="96" y1="486" x2="96" y2="607.3" stroke="#FAFAFA" stroke-width="0.5"/>
<line x1="139" y1="486" x2="139" y2="607.3" stroke="#FAFAFA" stroke-width="0.5"/>
<line x1="37.2" y1="496.3" x2="158.9" y2="496.3" stroke="#FAFAFA" stroke-width="0.5"/>
<line x1="37.2" y1="536.8" x2="158.9" y2="536.8" stroke="#FAFAFA" stroke-width="0.5"/>
<line x1="37.2" y1="577.2" x2="158.9" y2="577.2" stroke="#FAFAFA" stroke-width="0.5"/>
<line x1="74.5" y1="486" x2="74.5" y2="607.3" stroke="#FFFFFF" stroke-width="0.75"/>
<line x1="117.5" y1="486" x2="117.5" y2="607.3" stroke="#FFFFFF" stroke-width="0.75"/>
<line x1="37.2" y1="516.5" x2="158.9" y2="516.5" stroke="#FFFFFF" stroke-width="0.75"/>
<line x1="37.2" y1="557" x2="158.9" y2="557" stroke="#FFFFFF" stroke-width="0.75"/>
<line x1="37.2" y1="597.4" x2="158.9" y2="597.4" stroke="#FFFFFF" stroke-width="0.75"/>
<line x1="34.6" y1="516.5" x2="37.2" y2="516.5" stroke="#444" stroke-width="0.55"/>
<text x="32" y="519" font-size="7" fill="#222" text-anchor="end">4</text>
<line x1="34.6" y1="557" x2="37.2" y2="557" stroke="#444" stroke-width="0.55"/>
<text x="32" y="559.5" font-size="7" fill="#222" text-anchor="end">2</text>
<line x1="34.6" y1="597.4" x2="37.2" y2="597.4" stroke="#444" stroke-width="0.55"/>
<text x="32" y="599.9" font-size="7" fill="#222" text-anchor="end">0</text>
<line x1="74.5" y1="607.3" x2="74.5" y2="609.9" stroke="#444" stroke-width="0.55"/>
<text x="74.5" y="619.1" font-size="7" fill="#222" text-anchor="middle">60</text>
<line x1="117.5" y1="607.3" x2="117.5" y2="609.9" stroke="#444" stroke-width="0.55"/>
<text x="117.5" y="619.1" font-size="7" fill="#222" text-anchor="middle">70</text>
<text x="98" y="479.8" font-size="7.3" fill="#111" text-anchor="middle">Offspring</text>
<text x="98" y="630.8" font-size="7.3" fill="#111" text-anchor="middle">Age (years)</text>
<g fill="#000" fill-opacity="0.5">
<circle cx="82.02" cy="491.47" r="1.55"/>
<circle cx="78.66" cy="507.54" r="1.55"/>
<circle cx="67.63" cy="533.33" r="1.55"/>
<circle cx="89.49" cy="553.32" r="1.55"/>
<circle cx="107.24" cy="556.5" r="1.55"/>
<circle cx="131.53" cy="553.13" r="1.55"/>
<circle cx="105.56" cy="562.85" r="1.55"/>
<circle cx="85.38" cy="565.28" r="1.55"/>
<circle cx="90.61" cy="565.28" r="1.55"/>
<circle cx="87.25" cy="567.33" r="1.55"/>
<circle cx="98.46" cy="566.21" r="1.55"/>
<circle cx="100.33" cy="573.69" r="1.55"/>
<circle cx="96.22" cy="574.62" r="1.55"/>
<circle cx="115.46" cy="573.69" r="1.55"/>
<circle cx="91.17" cy="577.42" r="1.55"/>
<circle cx="126.86" cy="577.42" r="1.55"/>
<circle cx="118.45" cy="579.48" r="1.55"/>
<circle cx="141.44" cy="581.16" r="1.55"/>
<circle cx="103.13" cy="581.72" r="1.55"/>
<circle cx="109.67" cy="582.84" r="1.55"/>
<circle cx="125.18" cy="583.96" r="1.55"/>
<circle cx="126.49" cy="587.14" r="1.55"/>
<circle cx="87.25" cy="583.59" r="1.55"/>
<circle cx="84.45" cy="584.52" r="1.55"/>
<circle cx="82.95" cy="587.14" r="1.55"/>
<circle cx="86.32" cy="588.63" r="1.55"/>
<circle cx="81.09" cy="592.37" r="1.55"/>
<circle cx="68.19" cy="592.74" r="1.55"/>
<circle cx="56.8" cy="592.37" r="1.55"/>
<circle cx="57.92" cy="592.93" r="1.55"/>
<circle cx="91.92" cy="591.06" r="1.55"/>
<circle cx="98.46" cy="591.81" r="1.55"/>
<circle cx="104.07" cy="594.24" r="1.55"/>
<circle cx="138.07" cy="595.55" r="1.55"/>
<circle cx="143.68" cy="595.55" r="1.55"/>
<circle cx="74.17" cy="588.63" r="1.55"/>
<circle cx="76.97" cy="589.01" r="1.55"/>
<circle cx="83.51" cy="594.24" r="1.55"/>
<circle cx="90.05" cy="594.24" r="1.55"/>
<circle cx="95.66" cy="595.17" r="1.55"/>
<circle cx="112.48" cy="595.17" r="1.55"/>
<circle cx="119.95" cy="595.73" r="1.55"/>
<circle cx="131.16" cy="596.11" r="1.55"/>
<circle cx="42.41" cy="597.42" r="1.55"/>
<circle cx="52.68" cy="597.42" r="1.55"/>
<circle cx="54.55" cy="596.86" r="1.55"/>
<circle cx="61.65" cy="597.04" r="1.55"/>
<circle cx="63.9" cy="597.23" r="1.55"/>
<circle cx="68.57" cy="597.23" r="1.55"/>
<circle cx="68.94" cy="597.23" r="1.55"/>
<circle cx="68.57" cy="597.42" r="1.55"/>
<circle cx="74.55" cy="597.23" r="1.55"/>
<circle cx="77.35" cy="597.23" r="1.55"/>
<circle cx="102.52" cy="597.03" r="1.55"/>
<circle cx="123.61" cy="596.99" r="1.55"/>
<circle cx="116.19" cy="597.15" r="1.55"/>
<circle cx="85.38" cy="597.23" r="1.55"/>
<circle cx="84.06" cy="597.19" r="1.55"/>
<circle cx="86.15" cy="597" r="1.55"/>
<circle cx="109.01" cy="597.41" r="1.55"/>
<circle cx="89.63" cy="597.07" r="1.55"/>
<circle cx="122.09" cy="597.48" r="1.55"/>
<circle cx="118.85" cy="597.17" r="1.55"/>
<circle cx="144.58" cy="596.97" r="1.55"/>
<circle cx="136.98" cy="597.11" r="1.55"/>
<circle cx="90.94" cy="597.01" r="1.55"/>
<circle cx="101.53" cy="597.41" r="1.55"/>
<circle cx="93.3" cy="597.27" r="1.55"/>
<circle cx="122.83" cy="597.16" r="1.55"/>
<circle cx="116.95" cy="596.98" r="1.55"/>
<circle cx="85.49" cy="597.06" r="1.55"/>
<circle cx="125.51" cy="597.19" r="1.55"/>
<circle cx="101.9" cy="597.28" r="1.55"/>
<circle cx="110.86" cy="597.12" r="1.55"/>
<circle cx="132.85" cy="597.34" r="1.55"/>
<circle cx="97.38" cy="597.27" r="1.55"/>
<circle cx="115.5" cy="597.44" r="1.55"/>
<circle cx="128.67" cy="597.11" r="1.55"/>
<circle cx="144.83" cy="597.01" r="1.55"/>
<circle cx="108.6" cy="597.37" r="1.55"/>
<circle cx="91.44" cy="597.22" r="1.55"/>
<circle cx="84.17" cy="597.32" r="1.55"/>
<circle cx="130.93" cy="597.27" r="1.55"/>
<circle cx="138.08" cy="597.12" r="1.55"/>
<circle cx="126.47" cy="597.28" r="1.55"/>
<circle cx="119.03" cy="597.2" r="1.55"/>
<circle cx="135.79" cy="597.48" r="1.55"/>
<circle cx="112.21" cy="597.32" r="1.55"/>
<circle cx="85.56" cy="597.34" r="1.55"/>
<circle cx="123.36" cy="597.51" r="1.55"/>
<circle cx="134.63" cy="597.11" r="1.55"/>
<circle cx="106.51" cy="597.32" r="1.55"/>
<circle cx="83.1" cy="597.21" r="1.55"/>
<circle cx="92.48" cy="597.01" r="1.55"/>
<circle cx="85.45" cy="597.38" r="1.55"/>
<circle cx="89.98" cy="597.09" r="1.55"/>
<circle cx="106.85" cy="597.44" r="1.55"/>
<circle cx="86.84" cy="597.2" r="1.55"/>
<circle cx="117.06" cy="597.44" r="1.55"/>
<circle cx="134.46" cy="597.43" r="1.55"/>
<circle cx="99.59" cy="597.18" r="1.55"/>
<circle cx="104.77" cy="597.44" r="1.55"/>
<circle cx="143.38" cy="597.03" r="1.55"/>
<circle cx="93.01" cy="597.08" r="1.55"/>
<circle cx="96.69" cy="597.22" r="1.55"/>
<circle cx="119.62" cy="597.1" r="1.55"/>
<circle cx="81.91" cy="597.18" r="1.55"/>
<circle cx="105.45" cy="597.27" r="1.55"/>
<circle cx="143.08" cy="597.34" r="1.55"/>
<circle cx="114.88" cy="597.29" r="1.55"/>
<circle cx="125.23" cy="596.98" r="1.55"/>
<circle cx="139.63" cy="597.39" r="1.55"/>
<circle cx="138.02" cy="597.4" r="1.55"/>
<circle cx="106.94" cy="597.17" r="1.55"/>
<circle cx="88.32" cy="597.3" r="1.55"/>
<circle cx="85.66" cy="596.99" r="1.55"/>
<circle cx="95.1" cy="597.04" r="1.55"/>
<circle cx="103.57" cy="596.98" r="1.55"/>
<circle cx="81.66" cy="597.03" r="1.55"/>
<circle cx="88.19" cy="597.15" r="1.55"/>
<circle cx="83.29" cy="597.44" r="1.55"/>
<circle cx="121.23" cy="597.03" r="1.55"/>
<circle cx="97.91" cy="597.14" r="1.55"/>
<circle cx="105.12" cy="597.02" r="1.55"/>
<circle cx="136.37" cy="597.51" r="1.55"/>
<circle cx="111.68" cy="597.22" r="1.55"/>
<circle cx="87.18" cy="597.01" r="1.55"/>
<circle cx="103.73" cy="597.1" r="1.55"/>
<circle cx="135.08" cy="597.04" r="1.55"/>
<circle cx="83.13" cy="597.48" r="1.55"/>
<circle cx="115.7" cy="597.03" r="1.55"/>
<circle cx="116.66" cy="596.96" r="1.55"/>
<circle cx="115.69" cy="597.5" r="1.55"/>
<circle cx="137.3" cy="597.34" r="1.55"/>
<circle cx="98.48" cy="597.15" r="1.55"/>
<circle cx="92.41" cy="597.38" r="1.55"/>
<circle cx="115.98" cy="597.39" r="1.55"/>
<circle cx="102.9" cy="597.07" r="1.55"/>
<circle cx="133.96" cy="597.5" r="1.55"/>
<circle cx="136.61" cy="597.4" r="1.55"/>
<circle cx="134.4" cy="597.36" r="1.55"/>
<circle cx="96.26" cy="597.24" r="1.55"/>
<circle cx="104.57" cy="596.96" r="1.55"/>
<circle cx="83.45" cy="597.11" r="1.55"/>
<circle cx="98.35" cy="597.34" r="1.55"/>
<circle cx="143.3" cy="597.2" r="1.55"/>
<circle cx="142.05" cy="597.5" r="1.55"/>
<circle cx="143.21" cy="597.15" r="1.55"/>
<circle cx="95.86" cy="597.08" r="1.55"/>
<circle cx="94.33" cy="597.06" r="1.55"/>
<circle cx="121.87" cy="597.45" r="1.55"/>
<circle cx="135.82" cy="597.22" r="1.55"/>
<circle cx="123.74" cy="597.4" r="1.55"/>
<circle cx="87.11" cy="597.32" r="1.55"/>
<circle cx="140.29" cy="597.39" r="1.55"/>
<circle cx="130" cy="597.22" r="1.55"/>
<circle cx="93.15" cy="597.39" r="1.55"/>
<circle cx="103.08" cy="597.4" r="1.55"/>
<circle cx="153.37" cy="597.19" r="1.55"/>
<circle cx="149.11" cy="597.4" r="1.55"/>
<circle cx="151.52" cy="597.11" r="1.55"/>
<circle cx="147.06" cy="597.1" r="1.55"/>
<circle cx="152.87" cy="597.34" r="1.55"/>
<circle cx="147.2" cy="597.35" r="1.55"/>
<circle cx="153.43" cy="597.29" r="1.55"/>
<circle cx="148.73" cy="597.25" r="1.55"/>
<circle cx="147.09" cy="597.05" r="1.55"/>
<circle cx="153.36" cy="597.28" r="1.55"/>
</g>
<polygon points="43.7,580.6 49.12,581.69 54.55,582.78 59.98,583.86 65.4,584.93 70.83,585.97 76.25,586.98 81.67,587.93 87.1,588.77 92.53,589.44 97.95,589.95 103.38,590.39 108.8,590.75 114.22,591.07 119.65,591.36 125.07,591.63 130.5,591.88 135.92,592.12 141.35,592.35 146.77,592.58 152.2,592.8 152.2,601.2 146.77,600.3 141.35,599.41 135.92,598.52 130.5,597.64 125.07,596.77 119.65,595.92 114.22,595.09 108.8,594.29 103.38,593.53 97.95,592.85 92.53,592.24 87.1,591.79 81.67,591.51 76.25,591.34 70.83,591.23 65.4,591.15 59.98,591.1 54.55,591.06 49.12,591.03 43.7,591" fill="#8c8c8c" fill-opacity="0.38"/>
<line x1="43.7" y1="585.8" x2="152.2" y2="597" stroke="#2A4560" stroke-width="1.15"/>
<text x="16.7" y="546.7" font-size="7.35" fill="#111" text-anchor="middle" transform="rotate(-90 16.7 546.7)">CA (10<tspan dy="-3.3" font-size="5.1">6</tspan><tspan dy="3.3"> fmol mg</tspan><tspan dy="-3.3" font-size="5.1">&#8722;1</tspan><tspan dy="3.3">)</tspan></text>
<rect x="203.8" y="486" width="121.5" height="121.3" fill="#EBEBEB"/>
<line x1="218.7" y1="486" x2="218.7" y2="607.3" stroke="#FAFAFA" stroke-width="0.5"/>
<line x1="262.6" y1="486" x2="262.6" y2="607.3" stroke="#FAFAFA" stroke-width="0.5"/>
<line x1="306.1" y1="486" x2="306.1" y2="607.3" stroke="#FAFAFA" stroke-width="0.5"/>
<line x1="203.8" y1="517.3" x2="325.3" y2="517.3" stroke="#FAFAFA" stroke-width="0.5"/>
<line x1="203.8" y1="550.9" x2="325.3" y2="550.9" stroke="#FAFAFA" stroke-width="0.5"/>
<line x1="203.8" y1="584.9" x2="325.3" y2="584.9" stroke="#FAFAFA" stroke-width="0.5"/>
<line x1="241.1" y1="486" x2="241.1" y2="607.3" stroke="#FFFFFF" stroke-width="0.75"/>
<line x1="284.1" y1="486" x2="284.1" y2="607.3" stroke="#FFFFFF" stroke-width="0.75"/>
<line x1="203.8" y1="500.4" x2="325.3" y2="500.4" stroke="#FFFFFF" stroke-width="0.75"/>
<line x1="203.8" y1="534.1" x2="325.3" y2="534.1" stroke="#FFFFFF" stroke-width="0.75"/>
<line x1="203.8" y1="568" x2="325.3" y2="568" stroke="#FFFFFF" stroke-width="0.75"/>
<line x1="203.8" y1="601.7" x2="325.3" y2="601.7" stroke="#FFFFFF" stroke-width="0.75"/>
<line x1="201.2" y1="500.4" x2="203.8" y2="500.4" stroke="#444" stroke-width="0.55"/>
<text x="198.6" y="502.9" font-size="7" fill="#222" text-anchor="end">6</text>
<line x1="201.2" y1="534.1" x2="203.8" y2="534.1" stroke="#444" stroke-width="0.55"/>
<text x="198.6" y="536.6" font-size="7" fill="#222" text-anchor="end">4</text>
<line x1="201.2" y1="568" x2="203.8" y2="568" stroke="#444" stroke-width="0.55"/>
<text x="198.6" y="570.5" font-size="7" fill="#222" text-anchor="end">2</text>
<line x1="201.2" y1="601.7" x2="203.8" y2="601.7" stroke="#444" stroke-width="0.55"/>
<text x="198.6" y="604.2" font-size="7" fill="#222" text-anchor="end">0</text>
<line x1="241.1" y1="607.3" x2="241.1" y2="609.9" stroke="#444" stroke-width="0.55"/>
<text x="241.1" y="619.1" font-size="7" fill="#222" text-anchor="middle">60</text>
<line x1="284.1" y1="607.3" x2="284.1" y2="609.9" stroke="#444" stroke-width="0.55"/>
<text x="284.1" y="619.1" font-size="7" fill="#222" text-anchor="middle">70</text>
<text x="264.8" y="479.8" font-size="7.3" fill="#111" text-anchor="middle">Offspring</text>
<text x="264.6" y="630.8" font-size="7.3" fill="#111" text-anchor="middle">Age (years)</text>
<g fill="#000" fill-opacity="0.5">
<circle cx="284.64" cy="491.47" r="1.55"/>
<circle cx="296.97" cy="539.68" r="1.55"/>
<circle cx="279.22" cy="541.17" r="1.55"/>
<circle cx="262.03" cy="543.42" r="1.55"/>
<circle cx="281.46" cy="546.78" r="1.55"/>
<circle cx="228.4" cy="552.76" r="1.55"/>
<circle cx="313.6" cy="553.32" r="1.55"/>
<circle cx="278.48" cy="554.07" r="1.55"/>
<circle cx="288.75" cy="553.51" r="1.55"/>
<circle cx="287.26" cy="555.94" r="1.55"/>
<circle cx="265.4" cy="557.43" r="1.55"/>
<circle cx="296.23" cy="557.43" r="1.55"/>
<circle cx="300.52" cy="559.67" r="1.55"/>
<circle cx="248.21" cy="562.48" r="1.55"/>
<circle cx="257.55" cy="563.41" r="1.55"/>
<circle cx="236.43" cy="565.28" r="1.55"/>
<circle cx="234.57" cy="566.59" r="1.55"/>
<circle cx="295.29" cy="565.28" r="1.55"/>
<circle cx="284.08" cy="566.59" r="1.55"/>
<circle cx="248.95" cy="568.08" r="1.55"/>
<circle cx="258.3" cy="568.45" r="1.55"/>
<circle cx="314.91" cy="568.08" r="1.55"/>
<circle cx="223.36" cy="569.95" r="1.55"/>
<circle cx="229.9" cy="569.95" r="1.55"/>
<circle cx="235.5" cy="569.95" r="1.55"/>
<circle cx="236.81" cy="571.26" r="1.55"/>
<circle cx="271.94" cy="569.95" r="1.55"/>
<circle cx="293.42" cy="569.01" r="1.55"/>
<circle cx="309.3" cy="569.95" r="1.55"/>
<circle cx="306.5" cy="571.26" r="1.55"/>
<circle cx="261.66" cy="571.44" r="1.55"/>
<circle cx="270.07" cy="572.19" r="1.55"/>
<circle cx="282.21" cy="572.75" r="1.55"/>
<circle cx="288.19" cy="571.44" r="1.55"/>
<circle cx="297.16" cy="569.95" r="1.55"/>
<circle cx="235.13" cy="574.25" r="1.55"/>
<circle cx="244.47" cy="575.18" r="1.55"/>
<circle cx="248.58" cy="575.18" r="1.55"/>
<circle cx="218.31" cy="576.68" r="1.55"/>
<circle cx="249.51" cy="575.93" r="1.55"/>
<circle cx="258.86" cy="573.69" r="1.55"/>
<circle cx="279.41" cy="576.49" r="1.55"/>
<circle cx="285.58" cy="576.12" r="1.55"/>
<circle cx="293.42" cy="574.62" r="1.55"/>
<circle cx="293.98" cy="576.86" r="1.55"/>
<circle cx="319.02" cy="574.99" r="1.55"/>
<circle cx="312.11" cy="576.86" r="1.55"/>
<circle cx="209.34" cy="583.03" r="1.55"/>
<circle cx="239.24" cy="582.09" r="1.55"/>
<circle cx="234.57" cy="586.39" r="1.55"/>
<circle cx="223.36" cy="589.75" r="1.55"/>
<circle cx="222.42" cy="597.42" r="1.55"/>
<circle cx="235.87" cy="601.34" r="1.55"/>
<circle cx="239.42" cy="593.3" r="1.55"/>
<circle cx="319.58" cy="583.03" r="1.55"/>
<circle cx="317.71" cy="592.37" r="1.55"/>
<circle cx="310.61" cy="596.48" r="1.55"/>
<circle cx="310.24" cy="601.34" r="1.55"/>
<circle cx="303.33" cy="594.8" r="1.55"/>
<circle cx="305.01" cy="588.07" r="1.55"/>
<circle cx="307.44" cy="584.34" r="1.55"/>
<circle cx="312.67" cy="584.9" r="1.55"/>
<circle cx="315.28" cy="584.34" r="1.55"/>
<circle cx="301.46" cy="578.73" r="1.55"/>
<circle cx="245.78" cy="601.71" r="1.55"/>
<circle cx="247.65" cy="601.34" r="1.55"/>
<circle cx="250.07" cy="600.78" r="1.55"/>
<circle cx="252.32" cy="601.34" r="1.55"/>
<circle cx="252.88" cy="601.34" r="1.55"/>
<circle cx="257.55" cy="601.71" r="1.55"/>
<circle cx="258.48" cy="601.71" r="1.55"/>
<circle cx="265.77" cy="601.34" r="1.55"/>
<circle cx="270.07" cy="600.78" r="1.55"/>
<circle cx="274.36" cy="601.34" r="1.55"/>
<circle cx="275.67" cy="601.34" r="1.55"/>
<circle cx="283.52" cy="600.22" r="1.55"/>
<circle cx="292.86" cy="600.22" r="1.55"/>
<circle cx="293.98" cy="601.34" r="1.55"/>
<circle cx="297.16" cy="601.34" r="1.55"/>
<circle cx="257.92" cy="601.9" r="1.55"/>
<circle cx="265.4" cy="599.84" r="1.55"/>
<circle cx="244.22" cy="596.18" r="1.55"/>
<circle cx="276.67" cy="584.96" r="1.55"/>
<circle cx="271.79" cy="596.29" r="1.55"/>
<circle cx="273.12" cy="600.16" r="1.55"/>
<circle cx="271.02" cy="597.92" r="1.55"/>
<circle cx="261.89" cy="596.66" r="1.55"/>
<circle cx="243.89" cy="581.25" r="1.55"/>
<circle cx="242.6" cy="598.14" r="1.55"/>
<circle cx="253.52" cy="589.65" r="1.55"/>
<circle cx="269.06" cy="589.53" r="1.55"/>
<circle cx="263.09" cy="591.59" r="1.55"/>
<circle cx="298.71" cy="590.1" r="1.55"/>
<circle cx="279.87" cy="597.61" r="1.55"/>
<circle cx="268.98" cy="579.87" r="1.55"/>
<circle cx="263.63" cy="598.18" r="1.55"/>
<circle cx="247.33" cy="585.06" r="1.55"/>
<circle cx="286.99" cy="595.98" r="1.55"/>
<circle cx="272.05" cy="596.07" r="1.55"/>
<circle cx="274.42" cy="580.5" r="1.55"/>
<circle cx="248.56" cy="584.74" r="1.55"/>
<circle cx="285.73" cy="585.32" r="1.55"/>
<circle cx="258.45" cy="583.7" r="1.55"/>
<circle cx="249.04" cy="588.83" r="1.55"/>
<circle cx="254.3" cy="592.61" r="1.55"/>
<circle cx="282.77" cy="587.59" r="1.55"/>
<circle cx="276.29" cy="586.16" r="1.55"/>
<circle cx="283.59" cy="595.62" r="1.55"/>
<circle cx="281.89" cy="592.32" r="1.55"/>
<circle cx="291.87" cy="594.93" r="1.55"/>
<circle cx="285.34" cy="600.03" r="1.55"/>
<circle cx="267.5" cy="586.07" r="1.55"/>
<circle cx="258.07" cy="595.17" r="1.55"/>
<circle cx="300.13" cy="588.81" r="1.55"/>
<circle cx="280.32" cy="596.84" r="1.55"/>
<circle cx="258.4" cy="589.06" r="1.55"/>
<circle cx="276.31" cy="596.23" r="1.55"/>
<circle cx="271.42" cy="588.22" r="1.55"/>
<circle cx="256.75" cy="586.94" r="1.55"/>
<circle cx="285.26" cy="590.55" r="1.55"/>
<circle cx="259.18" cy="583.15" r="1.55"/>
<circle cx="281.23" cy="593.53" r="1.55"/>
<circle cx="297.11" cy="593.11" r="1.55"/>
<circle cx="270.93" cy="593.85" r="1.55"/>
<circle cx="242.87" cy="597.86" r="1.55"/>
<circle cx="276.79" cy="584.25" r="1.55"/>
<circle cx="250.97" cy="584.53" r="1.55"/>
<circle cx="276.29" cy="591.19" r="1.55"/>
<circle cx="265.98" cy="582.11" r="1.55"/>
<circle cx="254.08" cy="579.2" r="1.55"/>
<circle cx="297.39" cy="597.52" r="1.55"/>
<circle cx="299.16" cy="596.11" r="1.55"/>
<circle cx="258.9" cy="591.8" r="1.55"/>
<circle cx="271.06" cy="593.86" r="1.55"/>
<circle cx="261.06" cy="588.78" r="1.55"/>
<circle cx="278.79" cy="592.71" r="1.55"/>
<circle cx="281.47" cy="591.39" r="1.55"/>
<circle cx="267.09" cy="595.95" r="1.55"/>
<circle cx="272.67" cy="583.27" r="1.55"/>
<circle cx="262.58" cy="589.75" r="1.55"/>
<circle cx="270.3" cy="590.99" r="1.55"/>
<circle cx="271.93" cy="591.13" r="1.55"/>
<circle cx="269.93" cy="579.88" r="1.55"/>
<circle cx="278.23" cy="598.02" r="1.55"/>
<circle cx="278.43" cy="588.27" r="1.55"/>
<circle cx="278.61" cy="582.18" r="1.55"/>
<circle cx="243.59" cy="590.22" r="1.55"/>
<circle cx="258.03" cy="595.56" r="1.55"/>
<circle cx="266.23" cy="579.01" r="1.55"/>
<circle cx="260.53" cy="593.84" r="1.55"/>
<circle cx="279.36" cy="591.14" r="1.55"/>
<circle cx="294.12" cy="595.3" r="1.55"/>
<circle cx="271.62" cy="594.44" r="1.55"/>
<circle cx="296.67" cy="597.38" r="1.55"/>
<circle cx="287.24" cy="581.26" r="1.55"/>
<circle cx="269.72" cy="595.48" r="1.55"/>
<circle cx="267.5" cy="598.14" r="1.55"/>
<circle cx="280.85" cy="596.88" r="1.55"/>
<circle cx="290.47" cy="588.06" r="1.55"/>
<circle cx="266.81" cy="596.61" r="1.55"/>
<circle cx="286.59" cy="589.81" r="1.55"/>
<circle cx="254.49" cy="591.23" r="1.55"/>
<circle cx="277.31" cy="598.62" r="1.55"/>
<circle cx="283.64" cy="589.95" r="1.55"/>
<circle cx="284.69" cy="593.99" r="1.55"/>
<circle cx="275.02" cy="590.19" r="1.55"/>
<circle cx="268.3" cy="595.14" r="1.55"/>
<circle cx="256.18" cy="584.82" r="1.55"/>
<circle cx="272.01" cy="578.27" r="1.55"/>
<circle cx="261.73" cy="594.22" r="1.55"/>
<circle cx="280.4" cy="589.33" r="1.55"/>
<circle cx="268.47" cy="578.64" r="1.55"/>
<circle cx="299.26" cy="593.8" r="1.55"/>
<circle cx="288.28" cy="582.83" r="1.55"/>
<circle cx="269.17" cy="575.48" r="1.55"/>
<circle cx="283.6" cy="597.09" r="1.55"/>
<circle cx="243.57" cy="589.35" r="1.55"/>
<circle cx="281.36" cy="575.93" r="1.55"/>
<circle cx="244.65" cy="581.4" r="1.55"/>
<circle cx="262.53" cy="578.75" r="1.55"/>
<circle cx="272.41" cy="591.71" r="1.55"/>
</g>
<polygon points="209.3,581.3 214.79,581.53 220.28,581.76 225.77,581.98 231.26,582.18 236.75,582.36 242.24,582.51 247.73,582.59 253.22,582.55 258.71,582.29 264.2,581.87 269.69,581.41 275.18,580.9 280.67,580.36 286.16,579.8 291.65,579.21 297.14,578.61 302.63,577.99 308.12,577.37 313.61,576.74 319.1,576.1 319.1,582.9 313.61,583.04 308.12,583.19 302.63,583.35 297.14,583.51 291.65,583.69 286.16,583.88 280.67,584.1 275.18,584.34 269.69,584.61 264.2,584.93 258.71,585.29 253.22,585.81 247.73,586.55 242.24,587.41 236.75,588.34 231.26,589.3 225.77,590.28 220.28,591.28 214.79,592.29 209.3,593.3" fill="#8c8c8c" fill-opacity="0.38"/>
<line x1="209.3" y1="587.3" x2="319.1" y2="579.5" stroke="#2A4560" stroke-width="1.15"/>
<text x="186.1" y="547" font-size="7.35" fill="#111" text-anchor="middle" transform="rotate(-90 186.1 547)">LCA (10<tspan dy="-3.3" font-size="5.1">6</tspan><tspan dy="3.3"> fmol mg</tspan><tspan dy="-3.3" font-size="5.1">&#8722;1</tspan><tspan dy="3.3">)</tspan></text>
<rect x="373.4" y="486" width="127.8" height="121.2" fill="#EBEBEB"/>
<line x1="388.5" y1="486" x2="388.5" y2="607.2" stroke="#FAFAFA" stroke-width="0.5"/>
<line x1="421.2" y1="486" x2="421.2" y2="607.2" stroke="#FAFAFA" stroke-width="0.5"/>
<line x1="437.4" y1="486" x2="437.4" y2="607.2" stroke="#FAFAFA" stroke-width="0.5"/>
<line x1="453.6" y1="486" x2="453.6" y2="607.2" stroke="#FAFAFA" stroke-width="0.5"/>
<line x1="486.4" y1="486" x2="486.4" y2="607.2" stroke="#FAFAFA" stroke-width="0.5"/>
<line x1="373.4" y1="502.6" x2="501.2" y2="502.6" stroke="#FAFAFA" stroke-width="0.5"/>
<line x1="373.4" y1="541.7" x2="501.2" y2="541.7" stroke="#FAFAFA" stroke-width="0.5"/>
<line x1="373.4" y1="580.9" x2="501.2" y2="580.9" stroke="#FAFAFA" stroke-width="0.5"/>
<line x1="404.8" y1="486" x2="404.8" y2="607.2" stroke="#FFFFFF" stroke-width="0.75"/>
<line x1="469.9" y1="486" x2="469.9" y2="607.2" stroke="#FFFFFF" stroke-width="0.75"/>
<line x1="373.4" y1="522.3" x2="501.2" y2="522.3" stroke="#FFFFFF" stroke-width="0.75"/>
<line x1="373.4" y1="561.4" x2="501.2" y2="561.4" stroke="#FFFFFF" stroke-width="0.75"/>
<line x1="373.4" y1="600.5" x2="501.2" y2="600.5" stroke="#FFFFFF" stroke-width="0.75"/>
<line x1="370.8" y1="522.3" x2="373.4" y2="522.3" stroke="#444" stroke-width="0.55"/>
<text x="368.2" y="524.8" font-size="7" fill="#222" text-anchor="end">40</text>
<line x1="370.8" y1="561.4" x2="373.4" y2="561.4" stroke="#444" stroke-width="0.55"/>
<text x="368.2" y="563.9" font-size="7" fill="#222" text-anchor="end">20</text>
<line x1="370.8" y1="600.5" x2="373.4" y2="600.5" stroke="#444" stroke-width="0.55"/>
<text x="368.2" y="603" font-size="7" fill="#222" text-anchor="end">0</text>
<line x1="404.8" y1="607.2" x2="404.8" y2="609.8" stroke="#444" stroke-width="0.55"/>
<text x="404.8" y="618.9" font-size="7" fill="#222" text-anchor="middle">Yes</text>
<line x1="469.9" y1="607.2" x2="469.9" y2="609.8" stroke="#444" stroke-width="0.55"/>
<text x="469.9" y="618.9" font-size="7" fill="#222" text-anchor="middle">No</text>
<text x="437.1" y="479.8" font-size="7.3" fill="#111" text-anchor="middle">Offspring</text>
<text x="437.1" y="630.8" font-size="7.3" fill="#111" text-anchor="middle">Drink current</text>
<g fill="#000" fill-opacity="0.5">
<circle cx="384.49" cy="491.54" r="1.4"/>
<circle cx="382.9" cy="502.86" r="1.4"/>
<circle cx="408.71" cy="535.42" r="1.4"/>
<circle cx="421.02" cy="551.5" r="1.4"/>
<circle cx="402.76" cy="555.47" r="1.4"/>
<circle cx="389.85" cy="556.86" r="1.4"/>
<circle cx="395.81" cy="557.46" r="1.4"/>
<circle cx="395.41" cy="563.41" r="1.4"/>
<circle cx="419.43" cy="567.38" r="1.4"/>
<circle cx="477.21" cy="559.04" r="1.4"/>
<circle cx="459.14" cy="568.18" r="1.4"/>
<circle cx="382.9" cy="579.49" r="1.4"/>
<circle cx="396.4" cy="579.29" r="1.4"/>
<circle cx="397.2" cy="579.29" r="1.4"/>
<circle cx="411.69" cy="578.3" r="1.4"/>
<circle cx="381.51" cy="583.27" r="1.4"/>
<circle cx="425.59" cy="584.66" r="1.4"/>
<circle cx="388.26" cy="587.63" r="1.4"/>
<circle cx="379.33" cy="588.63" r="1.4"/>
<circle cx="383.5" cy="589.22" r="1.4"/>
<circle cx="409.71" cy="589.22" r="1.4"/>
<circle cx="415.27" cy="587.63" r="1.4"/>
<circle cx="417.65" cy="587.63" r="1.4"/>
<circle cx="423.6" cy="588.63" r="1.4"/>
<circle cx="427.57" cy="589.22" r="1.4"/>
<circle cx="494.68" cy="589.42" r="1.4"/>
<circle cx="454.97" cy="593.19" r="1.4"/>
<circle cx="494.28" cy="596.57" r="1.4"/>
<circle cx="474.23" cy="595.77" r="1.4"/>
<circle cx="480.18" cy="597.16" r="1.4"/>
<circle cx="472.24" cy="597.16" r="1.4"/>
<circle cx="477.21" cy="597.76" r="1.4"/>
<circle cx="385.67" cy="594.01" r="1.4"/>
<circle cx="384.25" cy="599.01" r="1.4"/>
<circle cx="407.21" cy="596.82" r="1.4"/>
<circle cx="410.64" cy="597.38" r="1.4"/>
<circle cx="403.7" cy="590.25" r="1.4"/>
<circle cx="419.32" cy="598.09" r="1.4"/>
<circle cx="404.4" cy="595.85" r="1.4"/>
<circle cx="412.31" cy="590.91" r="1.4"/>
<circle cx="416.23" cy="592.87" r="1.4"/>
<circle cx="382.7" cy="593.01" r="1.4"/>
<circle cx="415.86" cy="592.37" r="1.4"/>
<circle cx="416.39" cy="600.48" r="1.4"/>
<circle cx="403.94" cy="594.24" r="1.4"/>
<circle cx="403.18" cy="597.41" r="1.4"/>
<circle cx="417.76" cy="596.71" r="1.4"/>
<circle cx="411.47" cy="591.03" r="1.4"/>
<circle cx="386.4" cy="592.89" r="1.4"/>
<circle cx="416.56" cy="593.42" r="1.4"/>
<circle cx="407.68" cy="590.35" r="1.4"/>
<circle cx="382" cy="593.04" r="1.4"/>
<circle cx="412.95" cy="597.5" r="1.4"/>
<circle cx="413.14" cy="593.27" r="1.4"/>
<circle cx="405.08" cy="595.1" r="1.4"/>
<circle cx="402.54" cy="591.46" r="1.4"/>
<circle cx="424.18" cy="592.31" r="1.4"/>
<circle cx="428.45" cy="600.07" r="1.4"/>
<circle cx="379.82" cy="595.04" r="1.4"/>
<circle cx="420.44" cy="600.4" r="1.4"/>
<circle cx="401.69" cy="593.04" r="1.4"/>
<circle cx="389.56" cy="600.16" r="1.4"/>
<circle cx="389.6" cy="596.33" r="1.4"/>
<circle cx="386.11" cy="595.73" r="1.4"/>
<circle cx="427.17" cy="591.61" r="1.4"/>
<circle cx="420.46" cy="595.57" r="1.4"/>
<circle cx="423.83" cy="597.61" r="1.4"/>
<circle cx="390.65" cy="599.66" r="1.4"/>
<circle cx="403.54" cy="590.48" r="1.4"/>
<circle cx="379.12" cy="595.39" r="1.4"/>
<circle cx="401.75" cy="593.39" r="1.4"/>
<circle cx="386.06" cy="593.83" r="1.4"/>
<circle cx="394.94" cy="599.06" r="1.4"/>
<circle cx="379.02" cy="598.11" r="1.4"/>
<circle cx="421.41" cy="591.48" r="1.4"/>
<circle cx="425.83" cy="597.72" r="1.4"/>
<circle cx="424.58" cy="593.26" r="1.4"/>
<circle cx="397.78" cy="594.35" r="1.4"/>
<circle cx="429.5" cy="596.41" r="1.4"/>
<circle cx="397.19" cy="594.72" r="1.4"/>
<circle cx="392.86" cy="590.72" r="1.4"/>
<circle cx="384.08" cy="599" r="1.4"/>
<circle cx="393.39" cy="600.06" r="1.4"/>
<circle cx="391.56" cy="593.01" r="1.4"/>
<circle cx="404.8" cy="592.21" r="1.4"/>
<circle cx="397.83" cy="600.27" r="1.4"/>
<circle cx="423.7" cy="598.76" r="1.4"/>
<circle cx="410.87" cy="599.83" r="1.4"/>
<circle cx="426.56" cy="595.99" r="1.4"/>
<circle cx="415.36" cy="590.73" r="1.4"/>
<circle cx="416.01" cy="594.96" r="1.4"/>
<circle cx="417.04" cy="597" r="1.4"/>
<circle cx="393.42" cy="590.73" r="1.4"/>
<circle cx="425.85" cy="591.55" r="1.4"/>
<circle cx="402.84" cy="593.83" r="1.4"/>
<circle cx="394.01" cy="597.99" r="1.4"/>
<circle cx="428.36" cy="592.95" r="1.4"/>
<circle cx="412.14" cy="593.38" r="1.4"/>
<circle cx="407.15" cy="594.36" r="1.4"/>
<circle cx="387.41" cy="591.91" r="1.4"/>
<circle cx="389.46" cy="599.75" r="1.4"/>
<circle cx="404.1" cy="592.53" r="1.4"/>
<circle cx="424.81" cy="600.73" r="1.4"/>
<circle cx="401.71" cy="599.37" r="1.4"/>
<circle cx="388.67" cy="599.29" r="1.4"/>
<circle cx="396.25" cy="599.29" r="1.4"/>
<circle cx="391.04" cy="599.56" r="1.4"/>
<circle cx="407.77" cy="600.56" r="1.4"/>
<circle cx="416.89" cy="599.8" r="1.4"/>
<circle cx="399.89" cy="599.98" r="1.4"/>
<circle cx="398.01" cy="599.69" r="1.4"/>
<circle cx="382.08" cy="599.59" r="1.4"/>
<circle cx="427.92" cy="599.35" r="1.4"/>
<circle cx="404.42" cy="600.15" r="1.4"/>
<circle cx="422.62" cy="599.49" r="1.4"/>
<circle cx="392.65" cy="599.54" r="1.4"/>
<circle cx="399.17" cy="599.86" r="1.4"/>
<circle cx="427.23" cy="600.5" r="1.4"/>
<circle cx="423.12" cy="599.18" r="1.4"/>
<circle cx="380.57" cy="600.27" r="1.4"/>
<circle cx="424.28" cy="599.9" r="1.4"/>
<circle cx="408.66" cy="599.15" r="1.4"/>
<circle cx="398.75" cy="600.62" r="1.4"/>
<circle cx="420.73" cy="600.51" r="1.4"/>
<circle cx="428.15" cy="599.54" r="1.4"/>
<circle cx="384.45" cy="599.39" r="1.4"/>
<circle cx="405.38" cy="600.23" r="1.4"/>
<circle cx="426.6" cy="600.29" r="1.4"/>
<circle cx="411.71" cy="600.36" r="1.4"/>
<circle cx="402.09" cy="600.02" r="1.4"/>
<circle cx="380.94" cy="600.39" r="1.4"/>
<circle cx="390.71" cy="600.61" r="1.4"/>
<circle cx="411.61" cy="599.63" r="1.4"/>
<circle cx="385.41" cy="599.55" r="1.4"/>
<circle cx="411.15" cy="600.26" r="1.4"/>
<circle cx="384.61" cy="599.26" r="1.4"/>
<circle cx="405.48" cy="600.07" r="1.4"/>
<circle cx="398.58" cy="599.5" r="1.4"/>
<circle cx="409.36" cy="599.16" r="1.4"/>
<circle cx="394.2" cy="599.88" r="1.4"/>
<circle cx="427.48" cy="600.17" r="1.4"/>
<circle cx="423.68" cy="599.9" r="1.4"/>
<circle cx="390.82" cy="599.54" r="1.4"/>
<circle cx="427.57" cy="600.27" r="1.4"/>
<circle cx="394.5" cy="599.18" r="1.4"/>
<circle cx="404.16" cy="600.22" r="1.4"/>
<circle cx="400.2" cy="599.56" r="1.4"/>
<circle cx="412.72" cy="600.62" r="1.4"/>
<circle cx="390.42" cy="599.2" r="1.4"/>
<circle cx="396.05" cy="599.82" r="1.4"/>
<circle cx="413.49" cy="599.46" r="1.4"/>
<circle cx="419.29" cy="600.32" r="1.4"/>
<circle cx="404.49" cy="599.47" r="1.4"/>
<circle cx="428.03" cy="599.64" r="1.4"/>
<circle cx="420.45" cy="599.51" r="1.4"/>
<circle cx="390.14" cy="600.36" r="1.4"/>
<circle cx="393.86" cy="600.66" r="1.4"/>
<circle cx="404.03" cy="599.45" r="1.4"/>
<circle cx="390.24" cy="599.81" r="1.4"/>
<circle cx="412.61" cy="600.65" r="1.4"/>
<circle cx="386.34" cy="599.77" r="1.4"/>
<circle cx="389.71" cy="600.7" r="1.4"/>
<circle cx="386.12" cy="599.23" r="1.4"/>
<circle cx="381.98" cy="599.77" r="1.4"/>
<circle cx="424.4" cy="600.55" r="1.4"/>
<circle cx="416.03" cy="600.73" r="1.4"/>
<circle cx="426.1" cy="599.67" r="1.4"/>
<circle cx="388.33" cy="600.63" r="1.4"/>
<circle cx="416.72" cy="599.2" r="1.4"/>
<circle cx="412.57" cy="599.75" r="1.4"/>
<circle cx="397.86" cy="599.67" r="1.4"/>
<circle cx="387.5" cy="599.15" r="1.4"/>
<circle cx="458.01" cy="600.09" r="1.4"/>
<circle cx="493.16" cy="599.87" r="1.4"/>
<circle cx="493.61" cy="599.95" r="1.4"/>
<circle cx="462.01" cy="600.56" r="1.4"/>
<circle cx="486.21" cy="600.17" r="1.4"/>
<circle cx="446.02" cy="600.21" r="1.4"/>
<circle cx="462.84" cy="600.66" r="1.4"/>
<circle cx="453.5" cy="600.11" r="1.4"/>
<circle cx="490.11" cy="599.77" r="1.4"/>
<circle cx="464.82" cy="600.55" r="1.4"/>
<circle cx="483.33" cy="599.78" r="1.4"/>
<circle cx="445.27" cy="599.81" r="1.4"/>
<circle cx="491.31" cy="600" r="1.4"/>
<circle cx="482.33" cy="600.64" r="1.4"/>
<circle cx="461.09" cy="600.01" r="1.4"/>
<circle cx="493.27" cy="600.36" r="1.4"/>
<circle cx="457.09" cy="600.45" r="1.4"/>
<circle cx="459.92" cy="600.02" r="1.4"/>
<circle cx="443.65" cy="600.49" r="1.4"/>
<circle cx="491.13" cy="600.37" r="1.4"/>
<circle cx="492.52" cy="599.77" r="1.4"/>
<circle cx="455.62" cy="600.22" r="1.4"/>
<circle cx="493.22" cy="600.69" r="1.4"/>
<circle cx="463.56" cy="599.99" r="1.4"/>
<circle cx="465.82" cy="600.23" r="1.4"/>
<circle cx="491.73" cy="599.93" r="1.4"/>
<circle cx="485.2" cy="600.48" r="1.4"/>
<circle cx="486.25" cy="600.51" r="1.4"/>
<circle cx="475.04" cy="600.07" r="1.4"/>
<circle cx="460.08" cy="600.1" r="1.4"/>
<circle cx="484.15" cy="599.82" r="1.4"/>
<circle cx="453.72" cy="600.49" r="1.4"/>
<circle cx="456.32" cy="599.81" r="1.4"/>
<circle cx="445.22" cy="600.29" r="1.4"/>
<circle cx="460.4" cy="600.72" r="1.4"/>
<circle cx="489.41" cy="600.72" r="1.4"/>
<circle cx="457.23" cy="599.83" r="1.4"/>
<circle cx="448.47" cy="600.24" r="1.4"/>
<circle cx="480.38" cy="600.19" r="1.4"/>
<circle cx="455.64" cy="600.16" r="1.4"/>
<circle cx="475.72" cy="600.41" r="1.4"/>
<circle cx="482.36" cy="600.58" r="1.4"/>
<circle cx="478.02" cy="599.86" r="1.4"/>
<circle cx="487.19" cy="600.04" r="1.4"/>
<circle cx="472.94" cy="600.11" r="1.4"/>
<circle cx="481.85" cy="599.94" r="1.4"/>
<circle cx="456.33" cy="599.99" r="1.4"/>
<circle cx="451.43" cy="600.62" r="1.4"/>
<circle cx="473.54" cy="600.07" r="1.4"/>
<circle cx="464.06" cy="600.73" r="1.4"/>
<circle cx="469.84" cy="599.97" r="1.4"/>
<circle cx="485.51" cy="600.39" r="1.4"/>
<circle cx="495" cy="599.85" r="1.4"/>
<circle cx="468.15" cy="600.56" r="1.4"/>
<circle cx="487.18" cy="600.65" r="1.4"/>
<circle cx="445.56" cy="600.04" r="1.4"/>
<circle cx="449.66" cy="599.93" r="1.4"/>
<circle cx="494.07" cy="600.32" r="1.4"/>
<circle cx="491.84" cy="600.11" r="1.4"/>
<circle cx="488.51" cy="600.19" r="1.4"/>
<circle cx="456.98" cy="600.52" r="1.4"/>
<circle cx="492.65" cy="599.85" r="1.4"/>
<circle cx="474.47" cy="600.36" r="1.4"/>
<circle cx="454.78" cy="600.11" r="1.4"/>
<circle cx="450.81" cy="599.95" r="1.4"/>
<circle cx="456.72" cy="600.34" r="1.4"/>
<circle cx="477.35" cy="599.95" r="1.4"/>
<circle cx="444.05" cy="600.07" r="1.4"/>
<circle cx="478.74" cy="599.93" r="1.4"/>
<circle cx="459.7" cy="599.95" r="1.4"/>
<circle cx="484.82" cy="600.29" r="1.4"/>
<circle cx="446.75" cy="599.84" r="1.4"/>
<circle cx="464.02" cy="600.29" r="1.4"/>
<circle cx="476.7" cy="599.83" r="1.4"/>
<circle cx="451.97" cy="600.43" r="1.4"/>
<circle cx="464.77" cy="600.02" r="1.4"/>
<circle cx="459.46" cy="600.69" r="1.4"/>
<circle cx="459.7" cy="600.31" r="1.4"/>
<circle cx="462.04" cy="600.16" r="1.4"/>
<circle cx="488.41" cy="600.73" r="1.4"/>
<circle cx="462.38" cy="599.94" r="1.4"/>
<circle cx="481.33" cy="599.95" r="1.4"/>
<circle cx="443.76" cy="600.64" r="1.4"/>
<circle cx="465.5" cy="600.56" r="1.4"/>
<circle cx="464.59" cy="600.62" r="1.4"/>
<circle cx="467.43" cy="599.9" r="1.4"/>
<circle cx="444.23" cy="600.29" r="1.4"/>
<circle cx="476.78" cy="600.65" r="1.4"/>
<circle cx="448.09" cy="600.36" r="1.4"/>
<circle cx="462.75" cy="600.24" r="1.4"/>
<circle cx="451.04" cy="600.02" r="1.4"/>
<circle cx="470.56" cy="600.66" r="1.4"/>
<circle cx="449.12" cy="600.23" r="1.4"/>
<circle cx="485.32" cy="600.7" r="1.4"/>
<circle cx="453.72" cy="599.87" r="1.4"/>
<circle cx="492.51" cy="600.71" r="1.4"/>
<circle cx="468.57" cy="599.8" r="1.4"/>
<circle cx="491.63" cy="600.13" r="1.4"/>
<circle cx="490.49" cy="600.36" r="1.4"/>
<circle cx="486.35" cy="599.9" r="1.4"/>
<circle cx="484.33" cy="599.96" r="1.4"/>
<circle cx="464.5" cy="600.58" r="1.4"/>
<circle cx="486.59" cy="599.93" r="1.4"/>
<circle cx="454.8" cy="600.14" r="1.4"/>
<circle cx="470.39" cy="600.12" r="1.4"/>
<circle cx="449.86" cy="599.99" r="1.4"/>
<circle cx="481.16" cy="600.63" r="1.4"/>
<circle cx="445.59" cy="600.3" r="1.4"/>
<circle cx="482.86" cy="599.78" r="1.4"/>
<circle cx="487.06" cy="599.86" r="1.4"/>
<circle cx="474.64" cy="600.29" r="1.4"/>
<circle cx="476.07" cy="600.05" r="1.4"/>
<circle cx="465.31" cy="600.32" r="1.4"/>
<circle cx="465.6" cy="600.4" r="1.4"/>
<circle cx="466.7" cy="600.18" r="1.4"/>
<circle cx="444.67" cy="600.36" r="1.4"/>
<circle cx="468.92" cy="599.98" r="1.4"/>
<circle cx="483.17" cy="600.52" r="1.4"/>
<circle cx="467.29" cy="599.92" r="1.4"/>
<circle cx="468.07" cy="599.85" r="1.4"/>
<circle cx="472.63" cy="598.5" r="1.4"/>
<circle cx="471.67" cy="598.52" r="1.4"/>
<circle cx="482.63" cy="597.65" r="1.4"/>
<circle cx="485.94" cy="597.74" r="1.4"/>
<circle cx="488.49" cy="599.26" r="1.4"/>
<circle cx="482.67" cy="597.68" r="1.4"/>
<circle cx="482.47" cy="598.38" r="1.4"/>
<circle cx="494.18" cy="597.86" r="1.4"/>
<circle cx="491.73" cy="599.74" r="1.4"/>
<circle cx="488.45" cy="599.34" r="1.4"/>
<circle cx="474.34" cy="599.7" r="1.4"/>
<circle cx="482.16" cy="599.65" r="1.4"/>
</g>
<rect x="380.5" y="590.2" width="49.1" height="9.0" fill="#fff" fill-opacity="0.9" stroke="#1a1a1a" stroke-width="0.7"/>
<line x1="380.5" y1="597.2" x2="429.6" y2="597.2" stroke="#222" stroke-width="0.9"/>
<line x1="404.8" y1="578.3" x2="404.8" y2="590.2" stroke="#333" stroke-width="0.6"/>
<line x1="404.8" y1="599.2" x2="404.8" y2="600.6" stroke="#333" stroke-width="0.6"/>
<rect x="443.4" y="599.3" width="51.0" height="1.3" fill="#fff" fill-opacity="0.9" stroke="#1a1a1a" stroke-width="0.7"/>
<line x1="443.4" y1="600.1" x2="494.4" y2="600.1" stroke="#222" stroke-width="0.9"/>
<line x1="404.8" y1="590.6" x2="469.9" y2="599.2" stroke="#2A4560" stroke-width="1.15"/>
<g fill="#000" fill-opacity="0.4">
<circle cx="385.67" cy="594.01" r="1.4"/>
<circle cx="407.21" cy="596.82" r="1.4"/>
<circle cx="403.7" cy="590.25" r="1.4"/>
<circle cx="404.4" cy="595.85" r="1.4"/>
<circle cx="416.23" cy="592.87" r="1.4"/>
<circle cx="415.86" cy="592.37" r="1.4"/>
<circle cx="403.94" cy="594.24" r="1.4"/>
<circle cx="417.76" cy="596.71" r="1.4"/>
<circle cx="386.4" cy="592.89" r="1.4"/>
<circle cx="407.68" cy="590.35" r="1.4"/>
<circle cx="412.95" cy="597.5" r="1.4"/>
<circle cx="405.08" cy="595.1" r="1.4"/>
<circle cx="424.18" cy="592.31" r="1.4"/>
<circle cx="379.82" cy="595.04" r="1.4"/>
<circle cx="401.69" cy="593.04" r="1.4"/>
<circle cx="389.6" cy="596.33" r="1.4"/>
<circle cx="427.17" cy="591.61" r="1.4"/>
<circle cx="423.83" cy="597.61" r="1.4"/>
<circle cx="403.54" cy="590.48" r="1.4"/>
<circle cx="401.75" cy="593.39" r="1.4"/>
<circle cx="394.94" cy="599.06" r="1.4"/>
<circle cx="421.41" cy="591.48" r="1.4"/>
<circle cx="424.58" cy="593.26" r="1.4"/>
<circle cx="429.5" cy="596.41" r="1.4"/>
<circle cx="392.86" cy="590.72" r="1.4"/>
<circle cx="393.39" cy="600.06" r="1.4"/>
<circle cx="404.8" cy="592.21" r="1.4"/>
<circle cx="423.7" cy="598.76" r="1.4"/>
<circle cx="426.56" cy="595.99" r="1.4"/>
<circle cx="416.01" cy="594.96" r="1.4"/>
<circle cx="393.42" cy="590.73" r="1.4"/>
<circle cx="402.84" cy="593.83" r="1.4"/>
<circle cx="428.36" cy="592.95" r="1.4"/>
<circle cx="407.15" cy="594.36" r="1.4"/>
<circle cx="389.46" cy="599.75" r="1.4"/>
</g>
<g fill="#000" fill-opacity="0.6">
<circle cx="458.01" cy="600.09" r="1.3"/>
<circle cx="462.01" cy="600.56" r="1.3"/>
<circle cx="462.84" cy="600.66" r="1.3"/>
<circle cx="464.82" cy="600.55" r="1.3"/>
<circle cx="491.31" cy="600" r="1.3"/>
<circle cx="493.27" cy="600.36" r="1.3"/>
<circle cx="443.65" cy="600.49" r="1.3"/>
<circle cx="455.62" cy="600.22" r="1.3"/>
<circle cx="465.82" cy="600.23" r="1.3"/>
<circle cx="486.25" cy="600.51" r="1.3"/>
<circle cx="484.15" cy="599.82" r="1.3"/>
<circle cx="445.22" cy="600.29" r="1.3"/>
<circle cx="457.23" cy="599.83" r="1.3"/>
<circle cx="455.64" cy="600.16" r="1.3"/>
<circle cx="478.02" cy="599.86" r="1.3"/>
<circle cx="481.85" cy="599.94" r="1.3"/>
<circle cx="473.54" cy="600.07" r="1.3"/>
<circle cx="485.51" cy="600.39" r="1.3"/>
<circle cx="487.18" cy="600.65" r="1.3"/>
<circle cx="494.07" cy="600.32" r="1.3"/>
<circle cx="456.98" cy="600.52" r="1.3"/>
<circle cx="454.78" cy="600.11" r="1.3"/>
<circle cx="477.35" cy="599.95" r="1.3"/>
<circle cx="459.7" cy="599.95" r="1.3"/>
<circle cx="464.02" cy="600.29" r="1.3"/>
<circle cx="464.77" cy="600.02" r="1.3"/>
<circle cx="462.04" cy="600.16" r="1.3"/>
<circle cx="481.33" cy="599.95" r="1.3"/>
<circle cx="464.59" cy="600.62" r="1.3"/>
<circle cx="476.78" cy="600.65" r="1.3"/>
<circle cx="451.04" cy="600.02" r="1.3"/>
<circle cx="485.32" cy="600.7" r="1.3"/>
<circle cx="468.57" cy="599.8" r="1.3"/>
<circle cx="486.35" cy="599.9" r="1.3"/>
<circle cx="486.59" cy="599.93" r="1.3"/>
<circle cx="449.86" cy="599.99" r="1.3"/>
<circle cx="482.86" cy="599.78" r="1.3"/>
<circle cx="476.07" cy="600.05" r="1.3"/>
<circle cx="466.7" cy="600.18" r="1.3"/>
<circle cx="483.17" cy="600.52" r="1.3"/>
</g>
<text font-size="7.3" fill="#111" text-anchor="middle" transform="rotate(-90 343.4 546.5)" x="343.4" y="546.5">Ethyl &#945;-glucopyranoside</text>
<text font-size="7.3" fill="#111" text-anchor="middle" transform="rotate(-90 354.3 546.5)" x="354.3" y="546.5">(scaled intensity)</text>
<rect x="548.7" y="486.2" width="126.9" height="120.9" fill="#EBEBEB"/>
<line x1="553.5" y1="486.2" x2="553.5" y2="607.1" stroke="#FAFAFA" stroke-width="0.5"/>
<line x1="581.5" y1="486.2" x2="581.5" y2="607.1" stroke="#FAFAFA" stroke-width="0.5"/>
<line x1="609.5" y1="486.2" x2="609.5" y2="607.1" stroke="#FAFAFA" stroke-width="0.5"/>
<line x1="637.3" y1="486.2" x2="637.3" y2="607.1" stroke="#FAFAFA" stroke-width="0.5"/>
<line x1="665.1" y1="486.2" x2="665.1" y2="607.1" stroke="#FAFAFA" stroke-width="0.5"/>
<line x1="548.7" y1="500.7" x2="675.6" y2="500.7" stroke="#FAFAFA" stroke-width="0.5"/>
<line x1="548.7" y1="528.6" x2="675.6" y2="528.6" stroke="#FAFAFA" stroke-width="0.5"/>
<line x1="548.7" y1="556.5" x2="675.6" y2="556.5" stroke="#FAFAFA" stroke-width="0.5"/>
<line x1="548.7" y1="584.3" x2="675.6" y2="584.3" stroke="#FAFAFA" stroke-width="0.5"/>
<line x1="567.4" y1="486.2" x2="567.4" y2="607.1" stroke="#FFFFFF" stroke-width="0.75"/>
<line x1="595.4" y1="486.2" x2="595.4" y2="607.1" stroke="#FFFFFF" stroke-width="0.75"/>
<line x1="623.4" y1="486.2" x2="623.4" y2="607.1" stroke="#FFFFFF" stroke-width="0.75"/>
<line x1="651.2" y1="486.2" x2="651.2" y2="607.1" stroke="#FFFFFF" stroke-width="0.75"/>
<line x1="548.7" y1="486.8" x2="675.6" y2="486.8" stroke="#FFFFFF" stroke-width="0.75"/>
<line x1="548.7" y1="514.6" x2="675.6" y2="514.6" stroke="#FFFFFF" stroke-width="0.75"/>
<line x1="548.7" y1="542.6" x2="675.6" y2="542.6" stroke="#FFFFFF" stroke-width="0.75"/>
<line x1="548.7" y1="570.4" x2="675.6" y2="570.4" stroke="#FFFFFF" stroke-width="0.75"/>
<line x1="548.7" y1="598.2" x2="675.6" y2="598.2" stroke="#FFFFFF" stroke-width="0.75"/>
<line x1="546.1" y1="486.8" x2="548.7" y2="486.8" stroke="#444" stroke-width="0.55"/>
<text x="543.8" y="489.3" font-size="7" fill="#222" text-anchor="end">2.0</text>
<line x1="546.1" y1="514.6" x2="548.7" y2="514.6" stroke="#444" stroke-width="0.55"/>
<text x="543.8" y="517.1" font-size="7" fill="#222" text-anchor="end">1.5</text>
<line x1="546.1" y1="542.6" x2="548.7" y2="542.6" stroke="#444" stroke-width="0.55"/>
<text x="543.8" y="545.1" font-size="7" fill="#222" text-anchor="end">1.0</text>
<line x1="546.1" y1="570.4" x2="548.7" y2="570.4" stroke="#444" stroke-width="0.55"/>
<text x="543.8" y="572.9" font-size="7" fill="#222" text-anchor="end">0.5</text>
<line x1="546.1" y1="598.2" x2="548.7" y2="598.2" stroke="#444" stroke-width="0.55"/>
<text x="543.8" y="600.7" font-size="7" fill="#222" text-anchor="end">0</text>
<line x1="567.4" y1="607.1" x2="567.4" y2="609.7" stroke="#444" stroke-width="0.55"/>
<text x="567.4" y="618.5" font-size="7" fill="#222" text-anchor="middle">10</text>
<line x1="595.4" y1="607.1" x2="595.4" y2="609.7" stroke="#444" stroke-width="0.55"/>
<text x="595.4" y="618.5" font-size="7" fill="#222" text-anchor="middle">15</text>
<line x1="623.4" y1="607.1" x2="623.4" y2="609.7" stroke="#444" stroke-width="0.55"/>
<text x="623.4" y="618.5" font-size="7" fill="#222" text-anchor="middle">20</text>
<line x1="651.2" y1="607.1" x2="651.2" y2="609.7" stroke="#444" stroke-width="0.55"/>
<text x="651.2" y="618.5" font-size="7" fill="#222" text-anchor="middle">25</text>
<text x="612.1" y="479.8" font-size="7.3" fill="#111" text-anchor="middle">Offspring</text>
<text x="611.5" y="630.8" font-size="7.3" fill="#111" text-anchor="middle">Happiness index</text>
<polygon points="555.9,598 561.48,597.43 567.06,596.86 572.64,596.29 578.22,595.72 583.8,595.15 589.38,594.58 594.96,594.01 600.54,593.44 606.12,592.87 611.7,592.17 617.28,591.3 622.86,590.35 628.44,589.36 634.02,588.35 639.6,587.34 645.18,586.31 650.76,585.29 656.34,584.26 661.92,583.23 667.5,582.2 667.5,592.6 661.92,592.71 656.34,592.82 650.76,592.93 645.18,593.05 639.6,593.16 634.02,593.29 628.44,593.42 622.86,593.57 617.28,593.76 611.7,594.03 606.12,594.47 600.54,595.04 594.96,595.61 589.38,596.18 583.8,596.75 578.22,597.32 572.64,597.89 567.06,598.46 561.48,599.03 555.9,599.6" fill="#8c8c8c" fill-opacity="0.38"/>
<line x1="555.9" y1="598.8" x2="667.5" y2="587.4" stroke="#2A4560" stroke-width="1.15"/>
<line x1="612.1" y1="533.6" x2="612.1" y2="559.4" stroke="#333" stroke-width="0.6"/>
<rect x="609.7" y="559.4" width="4.8" height="38.8" fill="#fff" stroke="#222" stroke-width="0.6"/>
<line x1="623.4" y1="574.3" x2="623.4" y2="586.2" stroke="#333" stroke-width="0.6"/>
<rect x="621" y="586.2" width="4.8" height="12" fill="#fff" stroke="#222" stroke-width="0.6"/>
<rect x="626.8" y="592.2" width="4" height="6" fill="#fff" stroke="#222" stroke-width="0.6"/>
<line x1="639.6" y1="491.5" x2="639.6" y2="544.6" stroke="#333" stroke-width="0.6"/>
<rect x="637.3" y="544.6" width="4.6" height="53.6" fill="#fff" stroke="#222" stroke-width="0.6"/>
<g fill="#000" fill-opacity="0.55">
<circle cx="639.1" cy="491.54" r="1.45"/>
<circle cx="623.42" cy="508.22" r="1.45"/>
<circle cx="612.5" cy="533.63" r="1.45"/>
<circle cx="612.5" cy="534.63" r="1.45"/>
<circle cx="623.42" cy="562.42" r="1.45"/>
<circle cx="624.81" cy="573.93" r="1.45"/>
<circle cx="585.5" cy="571.55" r="1.45"/>
<circle cx="591.26" cy="582.07" r="1.45"/>
<circle cx="577.16" cy="585.25" r="1.45"/>
<circle cx="593.64" cy="591.21" r="1.45"/>
<circle cx="609.92" cy="583.86" r="1.45"/>
<circle cx="566.24" cy="595.18" r="1.45"/>
<circle cx="574.18" cy="596.17" r="1.45"/>
<circle cx="647.24" cy="596.17" r="1.45"/>
<circle cx="628.38" cy="591.21" r="1.45"/>
<circle cx="602.57" cy="597.16" r="1.45"/>
<circle cx="618.46" cy="596.77" r="1.45"/>
</g>
<line x1="555.9" y1="598.8" x2="667.5" y2="587.4" stroke="#2A4560" stroke-width="1.15"/>
<g fill="#000" fill-opacity="0.75">
<circle cx="632.96" cy="597.96" r="1.15"/>
<circle cx="621.81" cy="598.41" r="1.15"/>
<circle cx="558.66" cy="598.07" r="1.15"/>
<circle cx="619" cy="597.95" r="1.15"/>
<circle cx="631.26" cy="598.02" r="1.15"/>
<circle cx="624.19" cy="597.94" r="1.15"/>
<circle cx="596.81" cy="598.41" r="1.15"/>
<circle cx="571.14" cy="598.01" r="1.15"/>
<circle cx="597.14" cy="598.05" r="1.15"/>
<circle cx="556.16" cy="597.97" r="1.15"/>
<circle cx="567.03" cy="598.42" r="1.15"/>
<circle cx="612.31" cy="598.39" r="1.15"/>
<circle cx="567.68" cy="598.32" r="1.15"/>
<circle cx="562.99" cy="598.17" r="1.15"/>
<circle cx="608.53" cy="598.07" r="1.15"/>
<circle cx="629.2" cy="598.19" r="1.15"/>
<circle cx="603.61" cy="598.38" r="1.15"/>
<circle cx="562.08" cy="598.45" r="1.15"/>
<circle cx="607.95" cy="598.09" r="1.15"/>
<circle cx="622.62" cy="598.02" r="1.15"/>
<circle cx="639.46" cy="598.2" r="1.15"/>
<circle cx="584.41" cy="598.31" r="1.15"/>
<circle cx="591.58" cy="597.96" r="1.15"/>
<circle cx="617.9" cy="597.89" r="1.15"/>
<circle cx="624.56" cy="598.01" r="1.15"/>
<circle cx="608.78" cy="598.44" r="1.15"/>
<circle cx="604.12" cy="598.25" r="1.15"/>
<circle cx="580.25" cy="597.86" r="1.15"/>
<circle cx="555.89" cy="597.95" r="1.15"/>
<circle cx="606.76" cy="598.11" r="1.15"/>
<circle cx="597.73" cy="598.39" r="1.15"/>
<circle cx="564.47" cy="597.99" r="1.15"/>
<circle cx="609.99" cy="597.87" r="1.15"/>
<circle cx="553.17" cy="598.07" r="1.15"/>
<circle cx="562.23" cy="598.07" r="1.15"/>
<circle cx="572.53" cy="598.21" r="1.15"/>
<circle cx="604.4" cy="597.98" r="1.15"/>
<circle cx="607.44" cy="598.14" r="1.15"/>
<circle cx="564.71" cy="598.42" r="1.15"/>
<circle cx="574.22" cy="597.95" r="1.15"/>
<circle cx="561.31" cy="598.24" r="1.15"/>
<circle cx="629.05" cy="598.32" r="1.15"/>
<circle cx="588.05" cy="598.01" r="1.15"/>
<circle cx="553.95" cy="598.24" r="1.15"/>
<circle cx="602.06" cy="598.07" r="1.15"/>
<circle cx="609.34" cy="598.12" r="1.15"/>
<circle cx="634.81" cy="598.29" r="1.15"/>
<circle cx="574.65" cy="598.4" r="1.15"/>
<circle cx="556.78" cy="598.17" r="1.15"/>
<circle cx="588.41" cy="598" r="1.15"/>
<circle cx="558.04" cy="598.32" r="1.15"/>
<circle cx="554.02" cy="598.19" r="1.15"/>
<circle cx="635.13" cy="597.94" r="1.15"/>
<circle cx="570.37" cy="598.22" r="1.15"/>
<circle cx="597.22" cy="598.24" r="1.15"/>
<circle cx="623.99" cy="597.96" r="1.15"/>
<circle cx="579.97" cy="598.04" r="1.15"/>
<circle cx="557.18" cy="598.39" r="1.15"/>
<circle cx="621.34" cy="598.28" r="1.15"/>
<circle cx="553.5" cy="598.36" r="1.15"/>
<circle cx="618.04" cy="598.13" r="1.15"/>
<circle cx="617.74" cy="598.13" r="1.15"/>
<circle cx="572.68" cy="597.92" r="1.15"/>
<circle cx="573.23" cy="597.88" r="1.15"/>
<circle cx="582.25" cy="598.3" r="1.15"/>
<circle cx="613.66" cy="598.36" r="1.15"/>
<circle cx="615.11" cy="598.02" r="1.15"/>
<circle cx="601.32" cy="598.12" r="1.15"/>
<circle cx="621.82" cy="598.17" r="1.15"/>
<circle cx="576.12" cy="598.24" r="1.15"/>
<circle cx="637.25" cy="597.99" r="1.15"/>
<circle cx="629.82" cy="597.87" r="1.15"/>
<circle cx="575.69" cy="598" r="1.15"/>
<circle cx="617.92" cy="598.42" r="1.15"/>
<circle cx="618.12" cy="598.05" r="1.15"/>
<circle cx="629.83" cy="598.05" r="1.15"/>
<circle cx="573.83" cy="598.4" r="1.15"/>
<circle cx="608.03" cy="598.27" r="1.15"/>
<circle cx="611.05" cy="598.44" r="1.15"/>
<circle cx="593.95" cy="598.36" r="1.15"/>
<circle cx="613.88" cy="598.37" r="1.15"/>
<circle cx="591.13" cy="598.29" r="1.15"/>
<circle cx="602.76" cy="598.04" r="1.15"/>
<circle cx="571.46" cy="598.23" r="1.15"/>
<circle cx="559.74" cy="598.4" r="1.15"/>
<circle cx="565.57" cy="597.87" r="1.15"/>
<circle cx="562.26" cy="598.41" r="1.15"/>
<circle cx="583.07" cy="597.94" r="1.15"/>
<circle cx="555.45" cy="597.88" r="1.15"/>
<circle cx="613.44" cy="598.23" r="1.15"/>
<circle cx="613.83" cy="598.3" r="1.15"/>
<circle cx="558.69" cy="598.21" r="1.15"/>
<circle cx="584.69" cy="598.34" r="1.15"/>
<circle cx="624.53" cy="598.39" r="1.15"/>
<circle cx="558.7" cy="598.37" r="1.15"/>
<circle cx="632.82" cy="598.42" r="1.15"/>
<circle cx="562.3" cy="597.98" r="1.15"/>
<circle cx="562.72" cy="597.88" r="1.15"/>
<circle cx="626.99" cy="598.34" r="1.15"/>
<circle cx="608.34" cy="598.35" r="1.15"/>
<circle cx="608.11" cy="598.03" r="1.15"/>
<circle cx="561.67" cy="597.92" r="1.15"/>
<circle cx="619.1" cy="597.98" r="1.15"/>
<circle cx="580.82" cy="598.11" r="1.15"/>
<circle cx="554.77" cy="598.01" r="1.15"/>
<circle cx="577.63" cy="598.28" r="1.15"/>
<circle cx="585.09" cy="598.05" r="1.15"/>
<circle cx="637.15" cy="598.16" r="1.15"/>
<circle cx="627.31" cy="598.23" r="1.15"/>
<circle cx="555.65" cy="598.1" r="1.15"/>
<circle cx="591.07" cy="598.32" r="1.15"/>
<circle cx="583.23" cy="598.28" r="1.15"/>
<circle cx="599.93" cy="597.99" r="1.15"/>
<circle cx="628.26" cy="597.91" r="1.15"/>
<circle cx="624.55" cy="597.96" r="1.15"/>
<circle cx="553.05" cy="597.98" r="1.15"/>
<circle cx="619.52" cy="598.44" r="1.15"/>
<circle cx="553.32" cy="598.15" r="1.15"/>
<circle cx="595.87" cy="598.33" r="1.15"/>
<circle cx="569.06" cy="598.15" r="1.15"/>
<circle cx="583.27" cy="598.35" r="1.15"/>
<circle cx="575.7" cy="598.42" r="1.15"/>
<circle cx="577.73" cy="597.99" r="1.15"/>
<circle cx="614.04" cy="598.15" r="1.15"/>
<circle cx="562.54" cy="598.24" r="1.15"/>
<circle cx="560.01" cy="598.33" r="1.15"/>
<circle cx="613.84" cy="598.33" r="1.15"/>
<circle cx="607.79" cy="598.07" r="1.15"/>
<circle cx="587.99" cy="598.09" r="1.15"/>
<circle cx="630.72" cy="597.91" r="1.15"/>
<circle cx="630.55" cy="597.87" r="1.15"/>
<circle cx="570.95" cy="598.01" r="1.15"/>
<circle cx="631.67" cy="598.16" r="1.15"/>
<circle cx="586.07" cy="598.38" r="1.15"/>
<circle cx="573.34" cy="598.13" r="1.15"/>
<circle cx="599.37" cy="598.31" r="1.15"/>
<circle cx="618.72" cy="598.24" r="1.15"/>
<circle cx="583.38" cy="598.05" r="1.15"/>
<circle cx="566.51" cy="598.36" r="1.15"/>
<circle cx="610.78" cy="598.3" r="1.15"/>
<circle cx="567.75" cy="598.12" r="1.15"/>
<circle cx="620.5" cy="598.2" r="1.15"/>
<circle cx="563.95" cy="598.13" r="1.15"/>
<circle cx="630.26" cy="598" r="1.15"/>
<circle cx="569.68" cy="598.04" r="1.15"/>
<circle cx="614.37" cy="598.36" r="1.15"/>
<circle cx="566.45" cy="597.95" r="1.15"/>
<circle cx="574.57" cy="598.05" r="1.15"/>
<circle cx="598.56" cy="597.95" r="1.15"/>
<circle cx="581.6" cy="597.97" r="1.15"/>
<circle cx="642.68" cy="598.16" r="1.15"/>
<circle cx="643.87" cy="598.16" r="1.15"/>
<circle cx="643.27" cy="598.16" r="1.15"/>
<circle cx="644.66" cy="598.16" r="1.15"/>
<circle cx="645.85" cy="598.16" r="1.15"/>
<circle cx="645.26" cy="598.16" r="1.15"/>
<circle cx="647.64" cy="598.16" r="1.15"/>
<circle cx="648.83" cy="598.16" r="1.15"/>
<circle cx="648.24" cy="598.16" r="1.15"/>
<circle cx="652.6" cy="598.16" r="1.15"/>
<circle cx="653.79" cy="598.16" r="1.15"/>
<circle cx="653.2" cy="598.16" r="1.15"/>
<circle cx="656.57" cy="598.16" r="1.15"/>
<circle cx="657.77" cy="598.16" r="1.15"/>
<circle cx="657.17" cy="598.16" r="1.15"/>
<circle cx="660.54" cy="598.16" r="1.15"/>
<circle cx="661.74" cy="598.16" r="1.15"/>
<circle cx="661.14" cy="598.16" r="1.15"/>
<circle cx="664.52" cy="598.16" r="1.15"/>
<circle cx="665.71" cy="598.16" r="1.15"/>
<circle cx="665.11" cy="598.16" r="1.15"/>
<circle cx="668.49" cy="598.16" r="1.15"/>
<circle cx="669.68" cy="598.16" r="1.15"/>
<circle cx="669.08" cy="598.16" r="1.15"/>
<circle cx="568.43" cy="598.29" r="1.15"/>
<circle cx="554.56" cy="598.43" r="1.15"/>
<circle cx="554.56" cy="598.09" r="1.15"/>
<circle cx="568.57" cy="598.33" r="1.15"/>
<circle cx="564.59" cy="598.12" r="1.15"/>
<circle cx="556.06" cy="598.24" r="1.15"/>
<circle cx="554.64" cy="597.98" r="1.15"/>
<circle cx="559.11" cy="597.88" r="1.15"/>
<circle cx="559.28" cy="598.33" r="1.15"/>
<circle cx="563.95" cy="598.16" r="1.15"/>
<circle cx="562.98" cy="598.13" r="1.15"/>
<circle cx="555.19" cy="598.22" r="1.15"/>
<circle cx="559.37" cy="598.3" r="1.15"/>
<circle cx="567.36" cy="598.11" r="1.15"/>
<circle cx="562.06" cy="598.3" r="1.15"/>
<circle cx="559.63" cy="597.99" r="1.15"/>
<circle cx="564.41" cy="598.38" r="1.15"/>
<circle cx="565.24" cy="598.27" r="1.15"/>
<circle cx="566.48" cy="598.26" r="1.15"/>
<circle cx="563.13" cy="598.13" r="1.15"/>
<circle cx="557.91" cy="598.23" r="1.15"/>
<circle cx="554.5" cy="598.11" r="1.15"/>
<circle cx="565.37" cy="598.28" r="1.15"/>
<circle cx="562.94" cy="598.01" r="1.15"/>
<circle cx="559.67" cy="598.13" r="1.15"/>
<circle cx="562.81" cy="598.1" r="1.15"/>
<circle cx="563.67" cy="598.41" r="1.15"/>
<circle cx="555.85" cy="598.25" r="1.15"/>
<circle cx="565.3" cy="598.09" r="1.15"/>
<circle cx="560.72" cy="598.44" r="1.15"/>
<circle cx="553.55" cy="598.18" r="1.15"/>
<circle cx="555.5" cy="598.32" r="1.15"/>
<circle cx="567.88" cy="598.17" r="1.15"/>
<circle cx="554.55" cy="598.2" r="1.15"/>
<circle cx="561.53" cy="598.28" r="1.15"/>
<circle cx="561.08" cy="598.24" r="1.15"/>
<circle cx="566.11" cy="598.17" r="1.15"/>
<circle cx="559.46" cy="598.42" r="1.15"/>
<circle cx="556.28" cy="598.27" r="1.15"/>
<circle cx="559.17" cy="598.31" r="1.15"/>
</g>
<text font-size="7.3" fill="#111" text-anchor="middle" transform="rotate(-90 517.0 546.2)" x="517.0" y="546.2">Lachnospiraceae_bact._2_1_46FAA</text>
<text font-size="7.3" fill="#111" text-anchor="middle" transform="rotate(-90 526.9 546.2)" x="526.9" y="546.2">(relative abundance%)</text>
<text x="136.6" y="655.1" font-size="7.3" fill="#111" text-anchor="middle">Advanced age</text>
<rect x="88.9" y="658.7" width="95.6" height="11" fill="#00CCFF"/>
<text x="91.1" y="665.8" font-size="5.35" fill="#000" stroke-width="0.2">Intrinsic</text>
<rect x="88.9" y="670.79" width="16.9" height="11" fill="#E5B20A"/>
<text x="91.1" y="677.89" font-size="5.35" fill="#000" stroke-width="0.2">Demographic</text>
<rect x="88.9" y="682.88" width="14" height="11" fill="#BE5F64"/>
<text x="91.1" y="689.98" font-size="5.35" fill="#000" stroke-width="0.2">Medication</text>
<rect x="88.9" y="694.97" width="12.6" height="11" fill="#B2D66E"/>
<text x="91.1" y="702.07" font-size="5.35" fill="#000" stroke-width="0.2">Smoking</text>
<rect x="88.9" y="707.06" width="12.6" height="11" fill="#E278AA"/>
<text x="91.1" y="714.16" font-size="5.35" fill="#000" stroke-width="0.2">Diseases</text>
<line x1="88.3" y1="717.7" x2="193.1" y2="717.7" stroke="#4d4d4d" stroke-width="0.6"/>
<line x1="88.6" y1="717.7" x2="88.6" y2="719.9" stroke="#333" stroke-width="0.6"/>
<text x="88.8" y="726.8" font-size="6.2" fill="#222" text-anchor="middle">0</text>
<line x1="114.5" y1="717.7" x2="114.5" y2="719.9" stroke="#333" stroke-width="0.6"/>
<text x="114.9" y="726.8" font-size="6.2" fill="#222" text-anchor="middle">0.03</text>
<line x1="140.6" y1="717.7" x2="140.6" y2="719.9" stroke="#333" stroke-width="0.6"/>
<text x="141" y="726.8" font-size="6.2" fill="#222" text-anchor="middle">0.06</text>
<line x1="166.9" y1="717.7" x2="166.9" y2="719.9" stroke="#333" stroke-width="0.6"/>
<text x="167.3" y="726.8" font-size="6.2" fill="#222" text-anchor="middle">0.09</text>
<text x="136.6" y="735.65" font-size="6.06" fill="#111" text-anchor="middle">Combined effect size</text>
<text x="136.7" y="754.7" font-size="7.3" fill="#111" text-anchor="middle">Offspring</text>
<rect x="88.9" y="758.7" width="96.1" height="11" fill="#BE5F64"/>
<text x="91.1" y="765.8" font-size="5.35" fill="#000" stroke-width="0.2">Medication</text>
<rect x="88.9" y="770.79" width="43.1" height="11" fill="#C4A5FB"/>
<text x="91.1" y="777.89" font-size="5.35" fill="#000" stroke-width="0.2">Socioeconomic</text>
<rect x="88.9" y="782.88" width="40.7" height="11" fill="#00CCFF"/>
<text x="91.1" y="789.98" font-size="5.35" fill="#000" stroke-width="0.2">Intrinsic</text>
<rect x="88.9" y="794.97" width="36" height="11" fill="#E278AA"/>
<text x="91.1" y="802.07" font-size="5.35" fill="#000" stroke-width="0.2">Diseases</text>
<rect x="88.9" y="807.06" width="4.8" height="11" fill="#E5B20A"/>
<text x="91.1" y="814.16" font-size="5.35" fill="#000" stroke-width="0.2">Demographic</text>
<line x1="88.3" y1="817.7" x2="193.1" y2="817.7" stroke="#4d4d4d" stroke-width="0.6"/>
<line x1="88.6" y1="817.7" x2="88.6" y2="819.9" stroke="#333" stroke-width="0.6"/>
<text x="88.8" y="826.8" font-size="6.2" fill="#222" text-anchor="middle">0</text>
<line x1="115" y1="817.7" x2="115" y2="819.9" stroke="#333" stroke-width="0.6"/>
<text x="115.4" y="826.8" font-size="6.2" fill="#222" text-anchor="middle">0.05</text>
<line x1="141.4" y1="817.7" x2="141.4" y2="819.9" stroke="#333" stroke-width="0.6"/>
<text x="141.8" y="826.8" font-size="6.2" fill="#222" text-anchor="middle">0.10</text>
<line x1="167.6" y1="817.7" x2="167.6" y2="819.9" stroke="#333" stroke-width="0.6"/>
<text x="168" y="826.8" font-size="6.2" fill="#222" text-anchor="middle">0.15</text>
<text x="140.4" y="835.65" font-size="6.06" fill="#111" text-anchor="middle">Combined effect size</text>
<text x="74.2" y="739.2" font-size="7.4" fill="#111" text-anchor="middle" transform="rotate(-90 74.2 739.2)">Gut microbes</text>
<text x="342.1" y="655.3" font-size="7.3" fill="#111" text-anchor="middle">Advanced age</text>
<rect x="282" y="658.7" width="119.5" height="10.9" fill="#00CCFF"/>
<text x="283.2" y="665.75" font-size="5.35" fill="#000" stroke-width="0.2">Intrinsic</text>
<rect x="282" y="670.75" width="11" height="10.9" fill="#BE5F64"/>
<text x="283.2" y="677.8" font-size="5.35" fill="#000" stroke-width="0.2">Medication</text>
<rect x="282" y="682.8" width="9.7" height="10.9" fill="#E278AA"/>
<text x="283.2" y="689.85" font-size="5.35" fill="#000" stroke-width="0.2">Diseases</text>
<line x1="281.4" y1="693.6" x2="394.5" y2="693.6" stroke="#4d4d4d" stroke-width="0.6"/>
<line x1="281.5" y1="693.6" x2="281.5" y2="695.8" stroke="#333" stroke-width="0.6"/>
<text x="281.7" y="702.7" font-size="6.2" fill="#222" text-anchor="middle">0</text>
<line x1="327" y1="693.6" x2="327" y2="695.8" stroke="#333" stroke-width="0.6"/>
<text x="327.4" y="702.7" font-size="6.2" fill="#222" text-anchor="middle">0.1</text>
<line x1="372.6" y1="693.6" x2="372.6" y2="695.8" stroke="#333" stroke-width="0.6"/>
<text x="373" y="702.7" font-size="6.2" fill="#222" text-anchor="middle">0.2</text>
<text x="337.6" y="711.45" font-size="6.06" fill="#111" text-anchor="middle">Combined effect size</text>
<text x="340.5" y="746.3" font-size="7.3" fill="#111" text-anchor="middle">Offspring</text>
<rect x="281.7" y="749.9" width="98.2" height="10.8" fill="#00CCFF"/>
<text x="283.4" y="756.9" font-size="5.35" fill="#000" stroke-width="0.2">Intrinsic</text>
<rect x="281.7" y="761.96" width="70.6" height="10.8" fill="#BE5F64"/>
<text x="283.4" y="768.96" font-size="5.35" fill="#000" stroke-width="0.2">Medication</text>
<rect x="281.7" y="774.02" width="61.6" height="10.8" fill="#C4A5FB"/>
<text x="283.4" y="781.02" font-size="5.35" fill="#000" stroke-width="0.2">Socioeconomic</text>
<rect x="281.7" y="786.08" width="30.3" height="10.8" fill="#B2D66E"/>
<text x="283.4" y="793.08" font-size="5.35" fill="#000" stroke-width="0.2">Smoking</text>
<rect x="281.7" y="798.14" width="10.8" height="10.8" fill="#FF968C"/>
<text x="283.4" y="805.14" font-size="5.35" fill="#000" stroke-width="0.2">Diet</text>
<rect x="281.7" y="810.2" width="8.2" height="10.8" fill="#68CB08"/>
<text x="283.4" y="817.2" font-size="5.35" fill="#000" stroke-width="0.2">Alcoholic drinking</text>
<rect x="281.7" y="822.26" width="6.8" height="10.8" fill="#E278AA"/>
<text x="283.4" y="829.26" font-size="5.35" fill="#000" stroke-width="0.2">Diseases</text>
<rect x="281.7" y="834.32" width="6.1" height="10.8" fill="#E5B20A"/>
<text x="283.4" y="841.32" font-size="5.35" fill="#000" stroke-width="0.2">Demographic</text>
<line x1="281.1" y1="844.9" x2="403.5" y2="844.9" stroke="#4d4d4d" stroke-width="0.6"/>
<line x1="281.5" y1="844.9" x2="281.5" y2="847.1" stroke="#333" stroke-width="0.6"/>
<text x="281.7" y="854.6" font-size="6.2" fill="#222" text-anchor="middle">0</text>
<line x1="308.4" y1="844.9" x2="308.4" y2="847.1" stroke="#333" stroke-width="0.6"/>
<text x="308.8" y="854.6" font-size="6.2" fill="#222" text-anchor="middle">0.05</text>
<line x1="335.9" y1="844.9" x2="335.9" y2="847.1" stroke="#333" stroke-width="0.6"/>
<text x="336.3" y="854.6" font-size="6.2" fill="#222" text-anchor="middle">0.10</text>
<line x1="363.6" y1="844.9" x2="363.6" y2="847.1" stroke="#333" stroke-width="0.6"/>
<text x="364" y="854.6" font-size="6.2" fill="#222" text-anchor="middle">0.15</text>
<text x="342.1" y="864.75" font-size="6.06" fill="#111" text-anchor="middle">Combined effect size</text>
<text x="267.2" y="739.5" font-size="7.4" fill="#111" text-anchor="middle" transform="rotate(-90 267.2 739.5)">Gut metabolites</text>
<text x="547.3" y="655.3" font-size="7.3" fill="#111" text-anchor="middle">Advanced age</text>
<rect x="487.9" y="658.7" width="119.5" height="10.9" fill="#00CCFF"/>
<text x="488.7" y="665.75" font-size="5.35" fill="#000" stroke-width="0.2">Intrinsic</text>
<rect x="487.9" y="670.75" width="6.1" height="10.9" fill="#BE5F64"/>
<text x="488.7" y="677.8" font-size="5.35" fill="#000" stroke-width="0.2">Medication</text>
<rect x="487.9" y="682.8" width="4.3" height="10.9" fill="#E278AA"/>
<text x="488.7" y="689.85" font-size="5.35" fill="#000" stroke-width="0.2">Diseases</text>
<line x1="487.3" y1="693.6" x2="599.9" y2="693.6" stroke="#4d4d4d" stroke-width="0.6"/>
<line x1="487.4" y1="693.6" x2="487.4" y2="695.8" stroke="#333" stroke-width="0.6"/>
<text x="487.6" y="702.7" font-size="6.2" fill="#222" text-anchor="middle">0</text>
<line x1="515.5" y1="693.6" x2="515.5" y2="695.8" stroke="#333" stroke-width="0.6"/>
<text x="515.9" y="702.7" font-size="6.2" fill="#222" text-anchor="middle">0.1</text>
<line x1="543.3" y1="693.6" x2="543.3" y2="695.8" stroke="#333" stroke-width="0.6"/>
<text x="543.7" y="702.7" font-size="6.2" fill="#222" text-anchor="middle">0.2</text>
<line x1="570.9" y1="693.6" x2="570.9" y2="695.8" stroke="#333" stroke-width="0.6"/>
<text x="571.3" y="702.7" font-size="6.2" fill="#222" text-anchor="middle">0.3</text>
<line x1="598.2" y1="693.6" x2="598.2" y2="695.8" stroke="#333" stroke-width="0.6"/>
<text x="598.6" y="702.7" font-size="6.2" fill="#222" text-anchor="middle">0.4</text>
<text x="543.7" y="711.45" font-size="6.06" fill="#111" text-anchor="middle">Combined effect size</text>
<text x="551.6" y="746.2" font-size="7.3" fill="#111" text-anchor="middle">Offspring</text>
<rect x="487.9" y="749.9" width="119.5" height="10.8" fill="#00CCFF"/>
<text x="488.7" y="756.9" font-size="5.35" fill="#000" stroke-width="0.2">Intrinsic</text>
<rect x="487.9" y="761.96" width="56.5" height="10.8" fill="#E278AA"/>
<text x="488.7" y="768.96" font-size="5.35" fill="#000" stroke-width="0.2">Diseases</text>
<rect x="487.9" y="774.02" width="55.1" height="10.8" fill="#BE5F64"/>
<text x="488.7" y="781.02" font-size="5.35" fill="#000" stroke-width="0.2">Medication</text>
<rect x="487.9" y="786.08" width="35.8" height="10.8" fill="#FF968C"/>
<text x="488.7" y="793.08" font-size="5.35" fill="#000" stroke-width="0.2">Diet</text>
<rect x="487.9" y="798.14" width="15.1" height="10.8" fill="#68CB08"/>
<text x="488.7" y="805.14" font-size="5.35" fill="#000" stroke-width="0.2">Alcoholic drinking</text>
<rect x="487.9" y="810.2" width="5.7" height="10.8" fill="#B2D66E"/>
<text x="488.7" y="817.2" font-size="5.35" fill="#000" stroke-width="0.2">Smoking</text>
<line x1="487.3" y1="821" x2="609.5" y2="821" stroke="#4d4d4d" stroke-width="0.6"/>
<line x1="487.4" y1="821" x2="487.4" y2="823.2" stroke="#333" stroke-width="0.6"/>
<text x="487.6" y="829" font-size="6.2" fill="#222" text-anchor="middle">0</text>
<line x1="517.6" y1="821" x2="517.6" y2="823.2" stroke="#333" stroke-width="0.6"/>
<text x="518" y="829" font-size="6.2" fill="#222" text-anchor="middle">0.1</text>
<line x1="547.7" y1="821" x2="547.7" y2="823.2" stroke="#333" stroke-width="0.6"/>
<text x="548.1" y="829" font-size="6.2" fill="#222" text-anchor="middle">0.2</text>
<line x1="577.7" y1="821" x2="577.7" y2="823.2" stroke="#333" stroke-width="0.6"/>
<text x="578.1" y="829" font-size="6.2" fill="#222" text-anchor="middle">0.3</text>
<line x1="607.7" y1="821" x2="607.7" y2="823.2" stroke="#333" stroke-width="0.6"/>
<text x="608.1" y="829" font-size="6.2" fill="#222" text-anchor="middle">0.4</text>
<text x="547.3" y="839.55" font-size="6.06" fill="#111" text-anchor="middle">Combined effect size</text>
<text x="474" y="739" font-size="7.4" fill="#111" text-anchor="middle" transform="rotate(-90 474 739)">Plasma metabolites</text>
</svg>
</body></html>
